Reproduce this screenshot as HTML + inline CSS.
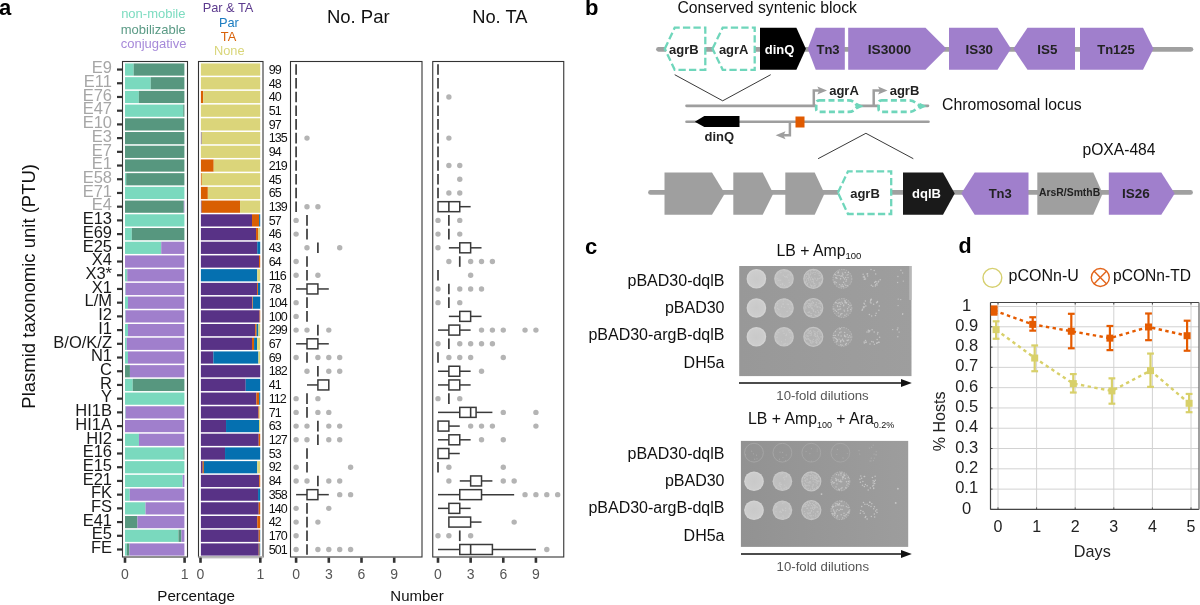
<!DOCTYPE html>
<html><head><meta charset="utf-8"><style>
html,body{margin:0;padding:0;background:#fff;width:1200px;height:605px;overflow:hidden}
svg{display:block;font-family:"Liberation Sans", sans-serif;will-change:transform}
</style></head><body>
<svg width="1200" height="605" viewBox="0 0 1200 605">
<rect width="1200" height="605" fill="#fff"/>
<text x="153.30" y="18.30" font-size="13" fill="#7ddcc0" text-anchor="middle" font-weight="normal" >non-mobile</text>
<text x="153.30" y="33.70" font-size="13" fill="#5a9a85" text-anchor="middle" font-weight="normal" >mobilizable</text>
<text x="153.60" y="48.10" font-size="13" fill="#a689d9" text-anchor="middle" font-weight="normal" >conjugative</text>
<text x="228.00" y="11.90" font-size="12.8" fill="#5c3a8e" text-anchor="middle" font-weight="normal" >Par &amp; TA</text>
<text x="228.90" y="26.60" font-size="12.8" fill="#1b7cc0" text-anchor="middle" font-weight="normal" >Par</text>
<text x="228.50" y="40.60" font-size="12.8" fill="#d8620a" text-anchor="middle" font-weight="normal" >TA</text>
<text x="229.30" y="54.50" font-size="12.8" fill="#d9d67a" text-anchor="middle" font-weight="normal" >None</text>
<text x="358.30" y="23.30" font-size="18.5" fill="#111" text-anchor="middle" font-weight="normal" >No. Par</text>
<text x="499.80" y="23.30" font-size="18.3" fill="#111" text-anchor="middle" font-weight="normal" >No. TA</text>
<text x="-1.00" y="15.30" font-size="22" fill="#000" text-anchor="start" font-weight="bold" >a</text>
<text transform="translate(35.4,286.35) rotate(-90)" font-size="18.5" fill="#111" text-anchor="middle">Plasmid taxonomic unit (PTU)</text>
<text x="112.00" y="73.25" font-size="16.5" fill="#a6a6a6" text-anchor="end" font-weight="normal" >E9</text>
<rect x="117" y="68.45" width="5.5" height="2.2" fill="#333"/>
<rect x="125.00" y="63.45" width="8.67" height="12.2" fill="#7ad9be"/>
<rect x="133.67" y="63.45" width="50.73" height="12.2" fill="#57977f"/>
<rect x="200.90" y="63.45" width="59.30" height="12.2" fill="#dbd57a"/>
<text x="268.80" y="73.80" font-size="12.5" fill="#111" text-anchor="start" font-weight="normal" letter-spacing="-1">99</text>
<text x="112.00" y="86.96" font-size="16.5" fill="#a6a6a6" text-anchor="end" font-weight="normal" >E11</text>
<rect x="117" y="82.16" width="5.5" height="2.2" fill="#333"/>
<rect x="125.00" y="77.16" width="25.72" height="12.2" fill="#7ad9be"/>
<rect x="150.72" y="77.16" width="33.68" height="12.2" fill="#57977f"/>
<rect x="200.90" y="77.16" width="59.30" height="12.2" fill="#dbd57a"/>
<text x="268.80" y="87.51" font-size="12.5" fill="#111" text-anchor="start" font-weight="normal" letter-spacing="-1">48</text>
<text x="112.00" y="100.68" font-size="16.5" fill="#a6a6a6" text-anchor="end" font-weight="normal" >E76</text>
<rect x="117" y="95.88" width="5.5" height="2.2" fill="#333"/>
<rect x="125.00" y="90.88" width="13.84" height="12.2" fill="#7ad9be"/>
<rect x="138.84" y="90.88" width="45.56" height="12.2" fill="#57977f"/>
<rect x="200.90" y="90.88" width="2.37" height="12.2" fill="#d95f02"/>
<rect x="203.27" y="90.88" width="56.93" height="12.2" fill="#dbd57a"/>
<text x="268.80" y="101.23" font-size="12.5" fill="#111" text-anchor="start" font-weight="normal" letter-spacing="-1">40</text>
<text x="112.00" y="114.39" font-size="16.5" fill="#a6a6a6" text-anchor="end" font-weight="normal" >E47</text>
<rect x="117" y="109.59" width="5.5" height="2.2" fill="#333"/>
<rect x="125.00" y="104.59" width="58.21" height="12.2" fill="#7ad9be"/>
<rect x="183.21" y="104.59" width="1.19" height="12.2" fill="#57977f"/>
<rect x="200.90" y="104.59" width="59.30" height="12.2" fill="#dbd57a"/>
<text x="268.80" y="114.94" font-size="12.5" fill="#111" text-anchor="start" font-weight="normal" letter-spacing="-1">51</text>
<text x="112.00" y="128.10" font-size="16.5" fill="#a6a6a6" text-anchor="end" font-weight="normal" >E10</text>
<rect x="117" y="123.30" width="5.5" height="2.2" fill="#333"/>
<rect x="125.00" y="118.30" width="59.40" height="12.2" fill="#57977f"/>
<rect x="200.90" y="118.30" width="59.30" height="12.2" fill="#dbd57a"/>
<text x="268.80" y="128.65" font-size="12.5" fill="#111" text-anchor="start" font-weight="normal" letter-spacing="-1">97</text>
<text x="112.00" y="141.81" font-size="16.5" fill="#a6a6a6" text-anchor="end" font-weight="normal" >E3</text>
<rect x="117" y="137.02" width="5.5" height="2.2" fill="#333"/>
<rect x="125.00" y="132.02" width="59.40" height="12.2" fill="#57977f"/>
<rect x="200.90" y="132.02" width="0.71" height="12.2" fill="#583286"/>
<rect x="201.61" y="132.02" width="58.59" height="12.2" fill="#dbd57a"/>
<text x="268.80" y="142.37" font-size="12.5" fill="#111" text-anchor="start" font-weight="normal" letter-spacing="-1">135</text>
<text x="112.00" y="155.53" font-size="16.5" fill="#a6a6a6" text-anchor="end" font-weight="normal" >E7</text>
<rect x="117" y="150.73" width="5.5" height="2.2" fill="#333"/>
<rect x="125.00" y="145.73" width="59.40" height="12.2" fill="#57977f"/>
<rect x="200.90" y="145.73" width="59.30" height="12.2" fill="#dbd57a"/>
<text x="268.80" y="156.08" font-size="12.5" fill="#111" text-anchor="start" font-weight="normal" letter-spacing="-1">94</text>
<text x="112.00" y="169.24" font-size="16.5" fill="#a6a6a6" text-anchor="end" font-weight="normal" >E1</text>
<rect x="117" y="164.44" width="5.5" height="2.2" fill="#333"/>
<rect x="125.00" y="159.44" width="59.40" height="12.2" fill="#57977f"/>
<rect x="200.90" y="159.44" width="12.81" height="12.2" fill="#d95f02"/>
<rect x="213.71" y="159.44" width="46.49" height="12.2" fill="#dbd57a"/>
<text x="268.80" y="169.79" font-size="12.5" fill="#111" text-anchor="start" font-weight="normal" letter-spacing="-1">219</text>
<text x="112.00" y="182.95" font-size="16.5" fill="#a6a6a6" text-anchor="end" font-weight="normal" >E58</text>
<rect x="117" y="178.15" width="5.5" height="2.2" fill="#333"/>
<rect x="125.00" y="173.15" width="1.19" height="12.2" fill="#7ad9be"/>
<rect x="126.19" y="173.15" width="58.21" height="12.2" fill="#57977f"/>
<rect x="200.90" y="173.15" width="0.89" height="12.2" fill="#d95f02"/>
<rect x="201.79" y="173.15" width="58.41" height="12.2" fill="#dbd57a"/>
<text x="268.80" y="183.50" font-size="12.5" fill="#111" text-anchor="start" font-weight="normal" letter-spacing="-1">45</text>
<text x="112.00" y="196.67" font-size="16.5" fill="#a6a6a6" text-anchor="end" font-weight="normal" >E71</text>
<rect x="117" y="191.87" width="5.5" height="2.2" fill="#333"/>
<rect x="125.00" y="186.87" width="59.40" height="12.2" fill="#7ad9be"/>
<rect x="200.90" y="186.87" width="6.94" height="12.2" fill="#d95f02"/>
<rect x="207.84" y="186.87" width="52.36" height="12.2" fill="#dbd57a"/>
<text x="268.80" y="197.22" font-size="12.5" fill="#111" text-anchor="start" font-weight="normal" letter-spacing="-1">65</text>
<text x="112.00" y="210.38" font-size="16.5" fill="#a6a6a6" text-anchor="end" font-weight="normal" >E4</text>
<rect x="117" y="205.58" width="5.5" height="2.2" fill="#333"/>
<rect x="125.00" y="200.58" width="58.81" height="12.2" fill="#57977f"/>
<rect x="183.81" y="200.58" width="0.59" height="12.2" fill="#a07fcc"/>
<rect x="200.90" y="200.58" width="0.71" height="12.2" fill="#583286"/>
<rect x="201.61" y="200.58" width="38.43" height="12.2" fill="#d95f02"/>
<rect x="240.04" y="200.58" width="20.16" height="12.2" fill="#dbd57a"/>
<text x="268.80" y="210.93" font-size="12.5" fill="#111" text-anchor="start" font-weight="normal" letter-spacing="-1">139</text>
<text x="112.00" y="224.09" font-size="16.5" fill="#1a1a1a" text-anchor="end" font-weight="normal" >E13</text>
<rect x="117" y="219.29" width="5.5" height="2.2" fill="#333"/>
<rect x="125.00" y="214.29" width="59.40" height="12.2" fill="#7ad9be"/>
<rect x="200.90" y="214.29" width="51.12" height="12.2" fill="#583286"/>
<rect x="252.02" y="214.29" width="7.12" height="12.2" fill="#d95f02"/>
<rect x="259.13" y="214.29" width="1.07" height="12.2" fill="#0570b0"/>
<text x="268.80" y="224.64" font-size="12.5" fill="#111" text-anchor="start" font-weight="normal" letter-spacing="-1">57</text>
<text x="112.00" y="237.81" font-size="16.5" fill="#1a1a1a" text-anchor="end" font-weight="normal" >E69</text>
<rect x="117" y="233.01" width="5.5" height="2.2" fill="#333"/>
<rect x="125.00" y="228.01" width="6.83" height="12.2" fill="#7ad9be"/>
<rect x="131.83" y="228.01" width="52.57" height="12.2" fill="#57977f"/>
<rect x="200.90" y="228.01" width="55.15" height="12.2" fill="#583286"/>
<rect x="256.05" y="228.01" width="2.37" height="12.2" fill="#d95f02"/>
<rect x="258.42" y="228.01" width="1.78" height="12.2" fill="#dbd57a"/>
<text x="268.80" y="238.36" font-size="12.5" fill="#111" text-anchor="start" font-weight="normal" letter-spacing="-1">46</text>
<text x="112.00" y="251.52" font-size="16.5" fill="#1a1a1a" text-anchor="end" font-weight="normal" >E25</text>
<rect x="117" y="246.72" width="5.5" height="2.2" fill="#333"/>
<rect x="125.00" y="241.72" width="36.23" height="12.2" fill="#7ad9be"/>
<rect x="161.23" y="241.72" width="23.17" height="12.2" fill="#a07fcc"/>
<rect x="200.90" y="241.72" width="56.33" height="12.2" fill="#583286"/>
<rect x="257.24" y="241.72" width="2.96" height="12.2" fill="#0570b0"/>
<text x="268.80" y="252.07" font-size="12.5" fill="#111" text-anchor="start" font-weight="normal" letter-spacing="-1">43</text>
<text x="112.00" y="265.23" font-size="16.5" fill="#1a1a1a" text-anchor="end" font-weight="normal" >X4</text>
<rect x="117" y="260.43" width="5.5" height="2.2" fill="#333"/>
<rect x="125.00" y="255.43" width="59.40" height="12.2" fill="#a07fcc"/>
<rect x="200.90" y="255.43" width="58.11" height="12.2" fill="#583286"/>
<rect x="259.01" y="255.43" width="1.19" height="12.2" fill="#d95f02"/>
<text x="268.80" y="265.78" font-size="12.5" fill="#111" text-anchor="start" font-weight="normal" letter-spacing="-1">64</text>
<text x="112.00" y="278.94" font-size="16.5" fill="#1a1a1a" text-anchor="end" font-weight="normal" >X3*</text>
<rect x="117" y="274.14" width="5.5" height="2.2" fill="#333"/>
<rect x="125.00" y="269.14" width="1.78" height="12.2" fill="#7ad9be"/>
<rect x="126.78" y="269.14" width="0.59" height="12.2" fill="#57977f"/>
<rect x="127.38" y="269.14" width="57.02" height="12.2" fill="#a07fcc"/>
<rect x="200.90" y="269.14" width="56.33" height="12.2" fill="#0570b0"/>
<rect x="257.24" y="269.14" width="2.96" height="12.2" fill="#dbd57a"/>
<text x="268.80" y="279.50" font-size="12.5" fill="#111" text-anchor="start" font-weight="normal" letter-spacing="-1">116</text>
<text x="112.00" y="292.66" font-size="16.5" fill="#1a1a1a" text-anchor="end" font-weight="normal" >X1</text>
<rect x="117" y="287.86" width="5.5" height="2.2" fill="#333"/>
<rect x="125.00" y="282.86" width="0.59" height="12.2" fill="#7ad9be"/>
<rect x="125.59" y="282.86" width="58.81" height="12.2" fill="#a07fcc"/>
<rect x="200.90" y="282.86" width="56.22" height="12.2" fill="#583286"/>
<rect x="257.12" y="282.86" width="0.89" height="12.2" fill="#d95f02"/>
<rect x="258.01" y="282.86" width="2.19" height="12.2" fill="#0570b0"/>
<text x="268.80" y="293.21" font-size="12.5" fill="#111" text-anchor="start" font-weight="normal" letter-spacing="-1">78</text>
<text x="112.00" y="306.37" font-size="16.5" fill="#1a1a1a" text-anchor="end" font-weight="normal" >L/M</text>
<rect x="117" y="301.57" width="5.5" height="2.2" fill="#333"/>
<rect x="125.00" y="296.57" width="2.97" height="12.2" fill="#7ad9be"/>
<rect x="127.97" y="296.57" width="56.43" height="12.2" fill="#a07fcc"/>
<rect x="200.90" y="296.57" width="51.35" height="12.2" fill="#583286"/>
<rect x="252.25" y="296.57" width="0.59" height="12.2" fill="#d95f02"/>
<rect x="252.85" y="296.57" width="7.35" height="12.2" fill="#0570b0"/>
<text x="268.80" y="306.92" font-size="12.5" fill="#111" text-anchor="start" font-weight="normal" letter-spacing="-1">104</text>
<text x="112.00" y="320.08" font-size="16.5" fill="#1a1a1a" text-anchor="end" font-weight="normal" >I2</text>
<rect x="117" y="315.28" width="5.5" height="2.2" fill="#333"/>
<rect x="125.00" y="310.28" width="0.59" height="12.2" fill="#7ad9be"/>
<rect x="125.59" y="310.28" width="58.81" height="12.2" fill="#a07fcc"/>
<rect x="200.90" y="310.28" width="58.71" height="12.2" fill="#583286"/>
<rect x="259.61" y="310.28" width="0.59" height="12.2" fill="#d95f02"/>
<text x="268.80" y="320.63" font-size="12.5" fill="#111" text-anchor="start" font-weight="normal" letter-spacing="-1">100</text>
<text x="112.00" y="333.80" font-size="16.5" fill="#1a1a1a" text-anchor="end" font-weight="normal" >I1</text>
<rect x="117" y="329.00" width="5.5" height="2.2" fill="#333"/>
<rect x="125.00" y="324.00" width="2.97" height="12.2" fill="#7ad9be"/>
<rect x="127.97" y="324.00" width="56.43" height="12.2" fill="#a07fcc"/>
<rect x="200.90" y="324.00" width="54.26" height="12.2" fill="#583286"/>
<rect x="255.16" y="324.00" width="1.48" height="12.2" fill="#d95f02"/>
<rect x="256.64" y="324.00" width="1.78" height="12.2" fill="#0570b0"/>
<rect x="258.42" y="324.00" width="1.78" height="12.2" fill="#dbd57a"/>
<text x="268.80" y="334.35" font-size="12.5" fill="#111" text-anchor="start" font-weight="normal" letter-spacing="-1">299</text>
<text x="112.00" y="347.51" font-size="16.5" fill="#1a1a1a" text-anchor="end" font-weight="normal" >B/O/K/Z</text>
<rect x="117" y="342.71" width="5.5" height="2.2" fill="#333"/>
<rect x="125.00" y="337.71" width="1.78" height="12.2" fill="#7ad9be"/>
<rect x="126.78" y="337.71" width="57.62" height="12.2" fill="#a07fcc"/>
<rect x="200.90" y="337.71" width="51.12" height="12.2" fill="#583286"/>
<rect x="252.02" y="337.71" width="2.08" height="12.2" fill="#d95f02"/>
<rect x="254.09" y="337.71" width="2.96" height="12.2" fill="#0570b0"/>
<rect x="257.06" y="337.71" width="3.14" height="12.2" fill="#dbd57a"/>
<text x="268.80" y="348.06" font-size="12.5" fill="#111" text-anchor="start" font-weight="normal" letter-spacing="-1">67</text>
<text x="112.00" y="361.22" font-size="16.5" fill="#1a1a1a" text-anchor="end" font-weight="normal" >N1</text>
<rect x="117" y="356.42" width="5.5" height="2.2" fill="#333"/>
<rect x="125.00" y="351.42" width="2.97" height="12.2" fill="#7ad9be"/>
<rect x="127.97" y="351.42" width="56.43" height="12.2" fill="#a07fcc"/>
<rect x="200.90" y="351.42" width="12.45" height="12.2" fill="#583286"/>
<rect x="213.35" y="351.42" width="45.07" height="12.2" fill="#0570b0"/>
<rect x="258.42" y="351.42" width="1.78" height="12.2" fill="#dbd57a"/>
<text x="268.80" y="361.77" font-size="12.5" fill="#111" text-anchor="start" font-weight="normal" letter-spacing="-1">69</text>
<text x="112.00" y="374.94" font-size="16.5" fill="#1a1a1a" text-anchor="end" font-weight="normal" >C</text>
<rect x="117" y="370.14" width="5.5" height="2.2" fill="#333"/>
<rect x="125.00" y="365.14" width="4.93" height="12.2" fill="#57977f"/>
<rect x="129.93" y="365.14" width="54.47" height="12.2" fill="#a07fcc"/>
<rect x="200.90" y="365.14" width="59.30" height="12.2" fill="#583286"/>
<text x="268.80" y="375.49" font-size="12.5" fill="#111" text-anchor="start" font-weight="normal" letter-spacing="-1">182</text>
<text x="112.00" y="388.65" font-size="16.5" fill="#1a1a1a" text-anchor="end" font-weight="normal" >R</text>
<rect x="117" y="383.85" width="5.5" height="2.2" fill="#333"/>
<rect x="125.00" y="378.85" width="7.72" height="12.2" fill="#7ad9be"/>
<rect x="132.72" y="378.85" width="51.68" height="12.2" fill="#57977f"/>
<rect x="200.90" y="378.85" width="44.83" height="12.2" fill="#583286"/>
<rect x="245.73" y="378.85" width="14.47" height="12.2" fill="#0570b0"/>
<text x="268.80" y="389.20" font-size="12.5" fill="#111" text-anchor="start" font-weight="normal" letter-spacing="-1">41</text>
<text x="112.00" y="402.36" font-size="16.5" fill="#1a1a1a" text-anchor="end" font-weight="normal" >Y</text>
<rect x="117" y="397.56" width="5.5" height="2.2" fill="#333"/>
<rect x="125.00" y="392.56" width="59.40" height="12.2" fill="#7ad9be"/>
<rect x="200.90" y="392.56" width="55.50" height="12.2" fill="#583286"/>
<rect x="256.40" y="392.56" width="2.79" height="12.2" fill="#d95f02"/>
<rect x="259.19" y="392.56" width="1.01" height="12.2" fill="#0570b0"/>
<text x="268.80" y="402.91" font-size="12.5" fill="#111" text-anchor="start" font-weight="normal" letter-spacing="-1">112</text>
<text x="112.00" y="416.07" font-size="16.5" fill="#1a1a1a" text-anchor="end" font-weight="normal" >HI1B</text>
<rect x="117" y="411.27" width="5.5" height="2.2" fill="#333"/>
<rect x="125.00" y="406.27" width="0.59" height="12.2" fill="#7ad9be"/>
<rect x="125.59" y="406.27" width="58.81" height="12.2" fill="#a07fcc"/>
<rect x="200.90" y="406.27" width="57.52" height="12.2" fill="#583286"/>
<rect x="258.42" y="406.27" width="0.89" height="12.2" fill="#d95f02"/>
<rect x="259.31" y="406.27" width="0.89" height="12.2" fill="#dbd57a"/>
<text x="268.80" y="416.62" font-size="12.5" fill="#111" text-anchor="start" font-weight="normal" letter-spacing="-1">71</text>
<text x="112.00" y="429.79" font-size="16.5" fill="#1a1a1a" text-anchor="end" font-weight="normal" >HI1A</text>
<rect x="117" y="424.99" width="5.5" height="2.2" fill="#333"/>
<rect x="125.00" y="419.99" width="59.40" height="12.2" fill="#a07fcc"/>
<rect x="200.90" y="419.99" width="25.14" height="12.2" fill="#583286"/>
<rect x="226.04" y="419.99" width="32.97" height="12.2" fill="#0570b0"/>
<rect x="259.01" y="419.99" width="1.19" height="12.2" fill="#dbd57a"/>
<text x="268.80" y="430.34" font-size="12.5" fill="#111" text-anchor="start" font-weight="normal" letter-spacing="-1">63</text>
<text x="112.00" y="443.50" font-size="16.5" fill="#1a1a1a" text-anchor="end" font-weight="normal" >HI2</text>
<rect x="117" y="438.70" width="5.5" height="2.2" fill="#333"/>
<rect x="125.00" y="433.70" width="13.96" height="12.2" fill="#7ad9be"/>
<rect x="138.96" y="433.70" width="45.44" height="12.2" fill="#a07fcc"/>
<rect x="200.90" y="433.70" width="57.82" height="12.2" fill="#583286"/>
<rect x="258.72" y="433.70" width="1.48" height="12.2" fill="#d95f02"/>
<text x="268.80" y="444.05" font-size="12.5" fill="#111" text-anchor="start" font-weight="normal" letter-spacing="-1">127</text>
<text x="112.00" y="457.21" font-size="16.5" fill="#1a1a1a" text-anchor="end" font-weight="normal" >E16</text>
<rect x="117" y="452.41" width="5.5" height="2.2" fill="#333"/>
<rect x="125.00" y="447.41" width="58.51" height="12.2" fill="#7ad9be"/>
<rect x="183.51" y="447.41" width="0.89" height="12.2" fill="#57977f"/>
<rect x="200.90" y="447.41" width="24.14" height="12.2" fill="#583286"/>
<rect x="225.04" y="447.41" width="35.16" height="12.2" fill="#0570b0"/>
<text x="268.80" y="457.76" font-size="12.5" fill="#111" text-anchor="start" font-weight="normal" letter-spacing="-1">53</text>
<text x="112.00" y="470.93" font-size="16.5" fill="#1a1a1a" text-anchor="end" font-weight="normal" >E15</text>
<rect x="117" y="466.13" width="5.5" height="2.2" fill="#333"/>
<rect x="125.00" y="461.13" width="59.40" height="12.2" fill="#7ad9be"/>
<rect x="200.90" y="461.13" width="1.78" height="12.2" fill="#583286"/>
<rect x="202.68" y="461.13" width="1.19" height="12.2" fill="#d95f02"/>
<rect x="203.87" y="461.13" width="53.37" height="12.2" fill="#0570b0"/>
<rect x="257.24" y="461.13" width="2.96" height="12.2" fill="#dbd57a"/>
<text x="268.80" y="471.48" font-size="12.5" fill="#111" text-anchor="start" font-weight="normal" letter-spacing="-1">92</text>
<text x="112.00" y="484.64" font-size="16.5" fill="#1a1a1a" text-anchor="end" font-weight="normal" >E21</text>
<rect x="117" y="479.84" width="5.5" height="2.2" fill="#333"/>
<rect x="125.00" y="474.84" width="57.62" height="12.2" fill="#7ad9be"/>
<rect x="182.62" y="474.84" width="1.78" height="12.2" fill="#a07fcc"/>
<rect x="200.90" y="474.84" width="58.29" height="12.2" fill="#583286"/>
<rect x="259.19" y="474.84" width="1.01" height="12.2" fill="#d95f02"/>
<text x="268.80" y="485.19" font-size="12.5" fill="#111" text-anchor="start" font-weight="normal" letter-spacing="-1">84</text>
<text x="112.00" y="498.35" font-size="16.5" fill="#1a1a1a" text-anchor="end" font-weight="normal" >FK</text>
<rect x="117" y="493.55" width="5.5" height="2.2" fill="#333"/>
<rect x="125.00" y="488.55" width="4.75" height="12.2" fill="#7ad9be"/>
<rect x="129.75" y="488.55" width="54.65" height="12.2" fill="#a07fcc"/>
<rect x="200.90" y="488.55" width="57.17" height="12.2" fill="#583286"/>
<rect x="258.07" y="488.55" width="2.13" height="12.2" fill="#0570b0"/>
<text x="268.80" y="498.90" font-size="12.5" fill="#111" text-anchor="start" font-weight="normal" letter-spacing="-1">358</text>
<text x="112.00" y="512.07" font-size="16.5" fill="#1a1a1a" text-anchor="end" font-weight="normal" >FS</text>
<rect x="117" y="507.27" width="5.5" height="2.2" fill="#333"/>
<rect x="125.00" y="502.27" width="20.49" height="12.2" fill="#7ad9be"/>
<rect x="145.49" y="502.27" width="38.91" height="12.2" fill="#a07fcc"/>
<rect x="200.90" y="502.27" width="57.82" height="12.2" fill="#583286"/>
<rect x="258.72" y="502.27" width="1.48" height="12.2" fill="#d95f02"/>
<text x="268.80" y="512.62" font-size="12.5" fill="#111" text-anchor="start" font-weight="normal" letter-spacing="-1">140</text>
<text x="112.00" y="525.78" font-size="16.5" fill="#1a1a1a" text-anchor="end" font-weight="normal" >E41</text>
<rect x="117" y="520.98" width="5.5" height="2.2" fill="#333"/>
<rect x="125.00" y="515.98" width="12.47" height="12.2" fill="#57977f"/>
<rect x="137.47" y="515.98" width="46.93" height="12.2" fill="#a07fcc"/>
<rect x="200.90" y="515.98" width="56.33" height="12.2" fill="#583286"/>
<rect x="257.24" y="515.98" width="2.96" height="12.2" fill="#d95f02"/>
<text x="268.80" y="526.33" font-size="12.5" fill="#111" text-anchor="start" font-weight="normal" letter-spacing="-1">42</text>
<text x="112.00" y="539.49" font-size="16.5" fill="#1a1a1a" text-anchor="end" font-weight="normal" >E5</text>
<rect x="117" y="534.69" width="5.5" height="2.2" fill="#333"/>
<rect x="125.00" y="529.69" width="53.46" height="12.2" fill="#7ad9be"/>
<rect x="178.46" y="529.69" width="2.97" height="12.2" fill="#57977f"/>
<rect x="181.43" y="529.69" width="2.97" height="12.2" fill="#a07fcc"/>
<rect x="200.90" y="529.69" width="57.82" height="12.2" fill="#583286"/>
<rect x="258.72" y="529.69" width="1.19" height="12.2" fill="#d95f02"/>
<rect x="259.90" y="529.69" width="0.30" height="12.2" fill="#0570b0"/>
<text x="268.80" y="540.04" font-size="12.5" fill="#111" text-anchor="start" font-weight="normal" letter-spacing="-1">170</text>
<text x="112.00" y="553.21" font-size="16.5" fill="#1a1a1a" text-anchor="end" font-weight="normal" >FE</text>
<rect x="117" y="548.40" width="5.5" height="2.2" fill="#333"/>
<rect x="125.00" y="543.40" width="1.78" height="12.2" fill="#7ad9be"/>
<rect x="126.78" y="543.40" width="2.67" height="12.2" fill="#57977f"/>
<rect x="129.45" y="543.40" width="54.95" height="12.2" fill="#a07fcc"/>
<rect x="200.90" y="543.40" width="57.82" height="12.2" fill="#583286"/>
<rect x="258.72" y="543.40" width="0.89" height="12.2" fill="#d95f02"/>
<rect x="259.61" y="543.40" width="0.59" height="12.2" fill="#0570b0"/>
<text x="268.80" y="553.75" font-size="12.5" fill="#111" text-anchor="start" font-weight="normal" letter-spacing="-1">501</text>
<rect x="122.5" y="61.5" width="65.0" height="495.5" fill="none" stroke="#333" stroke-width="1.1"/>
<rect x="198.5" y="61.5" width="64.5" height="495.5" fill="none" stroke="#333" stroke-width="1.1"/>
<rect x="290.5" y="61.5" width="131.5" height="495.5" fill="none" stroke="#333" stroke-width="1.1"/>
<rect x="432.75" y="61.5" width="131.0" height="495.5" fill="none" stroke="#333" stroke-width="1.1"/>
<rect x="198.5" y="556.2" width="64.5" height="2.2" fill="#bcbcbc"/>
<line x1="296.10" y1="64.25" x2="296.10" y2="74.85" stroke="#3a3a3a" stroke-width="1.7"/>
<line x1="438.00" y1="64.25" x2="438.00" y2="74.85" stroke="#3a3a3a" stroke-width="1.7"/>
<line x1="296.10" y1="77.96" x2="296.10" y2="88.56" stroke="#3a3a3a" stroke-width="1.7"/>
<line x1="438.00" y1="77.96" x2="438.00" y2="88.56" stroke="#3a3a3a" stroke-width="1.7"/>
<line x1="296.10" y1="91.68" x2="296.10" y2="102.28" stroke="#3a3a3a" stroke-width="1.7"/>
<circle cx="448.88" cy="96.98" r="2.7" fill="#b4b4b4"/>
<line x1="438.00" y1="91.68" x2="438.00" y2="102.28" stroke="#3a3a3a" stroke-width="1.7"/>
<line x1="296.10" y1="105.39" x2="296.10" y2="115.99" stroke="#3a3a3a" stroke-width="1.7"/>
<line x1="438.00" y1="105.39" x2="438.00" y2="115.99" stroke="#3a3a3a" stroke-width="1.7"/>
<line x1="296.10" y1="119.10" x2="296.10" y2="129.70" stroke="#3a3a3a" stroke-width="1.7"/>
<line x1="438.00" y1="119.10" x2="438.00" y2="129.70" stroke="#3a3a3a" stroke-width="1.7"/>
<circle cx="307.00" cy="138.12" r="2.7" fill="#b4b4b4"/>
<line x1="296.10" y1="132.81" x2="296.10" y2="143.42" stroke="#3a3a3a" stroke-width="1.7"/>
<circle cx="448.88" cy="138.12" r="2.7" fill="#b4b4b4"/>
<line x1="438.00" y1="132.81" x2="438.00" y2="143.42" stroke="#3a3a3a" stroke-width="1.7"/>
<line x1="296.10" y1="146.53" x2="296.10" y2="157.13" stroke="#3a3a3a" stroke-width="1.7"/>
<line x1="438.00" y1="146.53" x2="438.00" y2="157.13" stroke="#3a3a3a" stroke-width="1.7"/>
<line x1="296.10" y1="160.24" x2="296.10" y2="170.84" stroke="#3a3a3a" stroke-width="1.7"/>
<circle cx="448.88" cy="165.54" r="2.7" fill="#b4b4b4"/>
<circle cx="459.76" cy="165.54" r="2.7" fill="#b4b4b4"/>
<line x1="438.00" y1="160.24" x2="438.00" y2="170.84" stroke="#3a3a3a" stroke-width="1.7"/>
<line x1="296.10" y1="173.95" x2="296.10" y2="184.55" stroke="#3a3a3a" stroke-width="1.7"/>
<circle cx="459.76" cy="179.25" r="2.7" fill="#b4b4b4"/>
<line x1="438.00" y1="173.95" x2="438.00" y2="184.55" stroke="#3a3a3a" stroke-width="1.7"/>
<line x1="296.10" y1="187.67" x2="296.10" y2="198.27" stroke="#3a3a3a" stroke-width="1.7"/>
<circle cx="448.88" cy="192.97" r="2.7" fill="#b4b4b4"/>
<circle cx="459.76" cy="192.97" r="2.7" fill="#b4b4b4"/>
<line x1="438.00" y1="187.67" x2="438.00" y2="198.27" stroke="#3a3a3a" stroke-width="1.7"/>
<circle cx="307.00" cy="206.68" r="2.7" fill="#b4b4b4"/>
<circle cx="317.90" cy="206.68" r="2.7" fill="#b4b4b4"/>
<line x1="296.10" y1="201.38" x2="296.10" y2="211.98" stroke="#3a3a3a" stroke-width="1.7"/>
<line x1="459.76" y1="206.68" x2="470.64" y2="206.68" stroke="#3a3a3a" stroke-width="1.5"/>
<rect x="438.00" y="201.68" width="21.76" height="10" fill="#fff" stroke="#3a3a3a" stroke-width="1.5"/>
<line x1="448.88" y1="201.68" x2="448.88" y2="211.68" stroke="#3a3a3a" stroke-width="1.6"/>
<circle cx="296.10" cy="220.39" r="2.7" fill="#b4b4b4"/>
<line x1="307.00" y1="215.09" x2="307.00" y2="225.69" stroke="#3a3a3a" stroke-width="1.7"/>
<circle cx="438.00" cy="220.39" r="2.7" fill="#b4b4b4"/>
<circle cx="459.76" cy="220.39" r="2.7" fill="#b4b4b4"/>
<line x1="448.88" y1="215.09" x2="448.88" y2="225.69" stroke="#3a3a3a" stroke-width="1.7"/>
<circle cx="296.10" cy="234.11" r="2.7" fill="#b4b4b4"/>
<line x1="307.00" y1="228.81" x2="307.00" y2="239.41" stroke="#3a3a3a" stroke-width="1.7"/>
<circle cx="438.00" cy="234.11" r="2.7" fill="#b4b4b4"/>
<circle cx="459.76" cy="234.11" r="2.7" fill="#b4b4b4"/>
<line x1="448.88" y1="228.81" x2="448.88" y2="239.41" stroke="#3a3a3a" stroke-width="1.7"/>
<circle cx="307.00" cy="247.82" r="2.7" fill="#b4b4b4"/>
<circle cx="339.70" cy="247.82" r="2.7" fill="#b4b4b4"/>
<line x1="317.90" y1="242.52" x2="317.90" y2="253.12" stroke="#3a3a3a" stroke-width="1.7"/>
<circle cx="438.00" cy="247.82" r="2.7" fill="#b4b4b4"/>
<line x1="448.88" y1="247.82" x2="459.76" y2="247.82" stroke="#3a3a3a" stroke-width="1.5"/>
<line x1="470.64" y1="247.82" x2="481.52" y2="247.82" stroke="#3a3a3a" stroke-width="1.5"/>
<rect x="459.76" y="242.82" width="10.88" height="10" fill="#fff" stroke="#3a3a3a" stroke-width="1.5"/>
<circle cx="296.10" cy="261.53" r="2.7" fill="#b4b4b4"/>
<line x1="307.00" y1="256.23" x2="307.00" y2="266.83" stroke="#3a3a3a" stroke-width="1.7"/>
<circle cx="448.88" cy="261.53" r="2.7" fill="#b4b4b4"/>
<circle cx="470.64" cy="261.53" r="2.7" fill="#b4b4b4"/>
<circle cx="481.52" cy="261.53" r="2.7" fill="#b4b4b4"/>
<circle cx="492.40" cy="261.53" r="2.7" fill="#b4b4b4"/>
<line x1="459.76" y1="256.23" x2="459.76" y2="266.83" stroke="#3a3a3a" stroke-width="1.7"/>
<circle cx="296.10" cy="275.25" r="2.7" fill="#b4b4b4"/>
<circle cx="317.90" cy="275.25" r="2.7" fill="#b4b4b4"/>
<line x1="307.00" y1="269.94" x2="307.00" y2="280.55" stroke="#3a3a3a" stroke-width="1.7"/>
<circle cx="470.64" cy="275.25" r="2.7" fill="#b4b4b4"/>
<line x1="438.00" y1="269.94" x2="438.00" y2="280.55" stroke="#3a3a3a" stroke-width="1.7"/>
<line x1="296.10" y1="288.96" x2="307.00" y2="288.96" stroke="#3a3a3a" stroke-width="1.5"/>
<line x1="317.90" y1="288.96" x2="328.80" y2="288.96" stroke="#3a3a3a" stroke-width="1.5"/>
<rect x="307.00" y="283.96" width="10.90" height="10" fill="#fff" stroke="#3a3a3a" stroke-width="1.5"/>
<circle cx="438.00" cy="288.96" r="2.7" fill="#b4b4b4"/>
<circle cx="459.76" cy="288.96" r="2.7" fill="#b4b4b4"/>
<circle cx="470.64" cy="288.96" r="2.7" fill="#b4b4b4"/>
<circle cx="481.52" cy="288.96" r="2.7" fill="#b4b4b4"/>
<line x1="448.88" y1="283.66" x2="448.88" y2="294.26" stroke="#3a3a3a" stroke-width="1.7"/>
<circle cx="296.10" cy="302.67" r="2.7" fill="#b4b4b4"/>
<line x1="307.00" y1="297.37" x2="307.00" y2="307.97" stroke="#3a3a3a" stroke-width="1.7"/>
<circle cx="438.00" cy="302.67" r="2.7" fill="#b4b4b4"/>
<circle cx="459.76" cy="302.67" r="2.7" fill="#b4b4b4"/>
<line x1="448.88" y1="297.37" x2="448.88" y2="307.97" stroke="#3a3a3a" stroke-width="1.7"/>
<circle cx="296.10" cy="316.38" r="2.7" fill="#b4b4b4"/>
<line x1="307.00" y1="311.08" x2="307.00" y2="321.68" stroke="#3a3a3a" stroke-width="1.7"/>
<line x1="448.88" y1="316.38" x2="459.76" y2="316.38" stroke="#3a3a3a" stroke-width="1.5"/>
<line x1="470.64" y1="316.38" x2="481.52" y2="316.38" stroke="#3a3a3a" stroke-width="1.5"/>
<rect x="459.76" y="311.38" width="10.88" height="10" fill="#fff" stroke="#3a3a3a" stroke-width="1.5"/>
<circle cx="296.10" cy="330.10" r="2.7" fill="#b4b4b4"/>
<circle cx="307.00" cy="330.10" r="2.7" fill="#b4b4b4"/>
<circle cx="328.80" cy="330.10" r="2.7" fill="#b4b4b4"/>
<line x1="317.90" y1="324.80" x2="317.90" y2="335.40" stroke="#3a3a3a" stroke-width="1.7"/>
<circle cx="481.52" cy="330.10" r="2.7" fill="#b4b4b4"/>
<circle cx="492.40" cy="330.10" r="2.7" fill="#b4b4b4"/>
<circle cx="503.28" cy="330.10" r="2.7" fill="#b4b4b4"/>
<circle cx="525.04" cy="330.10" r="2.7" fill="#b4b4b4"/>
<circle cx="535.92" cy="330.10" r="2.7" fill="#b4b4b4"/>
<line x1="438.00" y1="330.10" x2="448.88" y2="330.10" stroke="#3a3a3a" stroke-width="1.5"/>
<line x1="459.76" y1="330.10" x2="470.64" y2="330.10" stroke="#3a3a3a" stroke-width="1.5"/>
<rect x="448.88" y="325.10" width="10.88" height="10" fill="#fff" stroke="#3a3a3a" stroke-width="1.5"/>
<line x1="296.10" y1="343.81" x2="307.00" y2="343.81" stroke="#3a3a3a" stroke-width="1.5"/>
<line x1="317.90" y1="343.81" x2="328.80" y2="343.81" stroke="#3a3a3a" stroke-width="1.5"/>
<rect x="307.00" y="338.81" width="10.90" height="10" fill="#fff" stroke="#3a3a3a" stroke-width="1.5"/>
<circle cx="438.00" cy="343.81" r="2.7" fill="#b4b4b4"/>
<circle cx="459.76" cy="343.81" r="2.7" fill="#b4b4b4"/>
<circle cx="470.64" cy="343.81" r="2.7" fill="#b4b4b4"/>
<circle cx="481.52" cy="343.81" r="2.7" fill="#b4b4b4"/>
<circle cx="492.40" cy="343.81" r="2.7" fill="#b4b4b4"/>
<line x1="448.88" y1="338.51" x2="448.88" y2="349.11" stroke="#3a3a3a" stroke-width="1.7"/>
<circle cx="296.10" cy="357.52" r="2.7" fill="#b4b4b4"/>
<circle cx="317.90" cy="357.52" r="2.7" fill="#b4b4b4"/>
<circle cx="328.80" cy="357.52" r="2.7" fill="#b4b4b4"/>
<circle cx="339.70" cy="357.52" r="2.7" fill="#b4b4b4"/>
<line x1="307.00" y1="352.22" x2="307.00" y2="362.82" stroke="#3a3a3a" stroke-width="1.7"/>
<circle cx="448.88" cy="357.52" r="2.7" fill="#b4b4b4"/>
<circle cx="459.76" cy="357.52" r="2.7" fill="#b4b4b4"/>
<circle cx="470.64" cy="357.52" r="2.7" fill="#b4b4b4"/>
<circle cx="503.28" cy="357.52" r="2.7" fill="#b4b4b4"/>
<line x1="438.00" y1="352.22" x2="438.00" y2="362.82" stroke="#3a3a3a" stroke-width="1.7"/>
<circle cx="307.00" cy="371.24" r="2.7" fill="#b4b4b4"/>
<circle cx="328.80" cy="371.24" r="2.7" fill="#b4b4b4"/>
<circle cx="339.70" cy="371.24" r="2.7" fill="#b4b4b4"/>
<line x1="317.90" y1="365.94" x2="317.90" y2="376.54" stroke="#3a3a3a" stroke-width="1.7"/>
<circle cx="481.52" cy="371.24" r="2.7" fill="#b4b4b4"/>
<line x1="438.00" y1="371.24" x2="448.88" y2="371.24" stroke="#3a3a3a" stroke-width="1.5"/>
<line x1="459.76" y1="371.24" x2="470.64" y2="371.24" stroke="#3a3a3a" stroke-width="1.5"/>
<rect x="448.88" y="366.24" width="10.88" height="10" fill="#fff" stroke="#3a3a3a" stroke-width="1.5"/>
<line x1="307.00" y1="384.95" x2="317.90" y2="384.95" stroke="#3a3a3a" stroke-width="1.5"/>
<rect x="317.90" y="379.95" width="10.90" height="10" fill="#fff" stroke="#3a3a3a" stroke-width="1.5"/>
<line x1="438.00" y1="384.95" x2="448.88" y2="384.95" stroke="#3a3a3a" stroke-width="1.5"/>
<line x1="459.76" y1="384.95" x2="470.64" y2="384.95" stroke="#3a3a3a" stroke-width="1.5"/>
<rect x="448.88" y="379.95" width="10.88" height="10" fill="#fff" stroke="#3a3a3a" stroke-width="1.5"/>
<circle cx="296.10" cy="398.66" r="2.7" fill="#b4b4b4"/>
<circle cx="317.90" cy="398.66" r="2.7" fill="#b4b4b4"/>
<line x1="307.00" y1="393.36" x2="307.00" y2="403.96" stroke="#3a3a3a" stroke-width="1.7"/>
<circle cx="438.00" cy="398.66" r="2.7" fill="#b4b4b4"/>
<circle cx="459.76" cy="398.66" r="2.7" fill="#b4b4b4"/>
<line x1="448.88" y1="393.36" x2="448.88" y2="403.96" stroke="#3a3a3a" stroke-width="1.7"/>
<circle cx="296.10" cy="412.38" r="2.7" fill="#b4b4b4"/>
<circle cx="317.90" cy="412.38" r="2.7" fill="#b4b4b4"/>
<circle cx="328.80" cy="412.38" r="2.7" fill="#b4b4b4"/>
<line x1="307.00" y1="407.07" x2="307.00" y2="417.68" stroke="#3a3a3a" stroke-width="1.7"/>
<circle cx="503.28" cy="412.38" r="2.7" fill="#b4b4b4"/>
<circle cx="535.92" cy="412.38" r="2.7" fill="#b4b4b4"/>
<line x1="438.00" y1="412.38" x2="459.76" y2="412.38" stroke="#3a3a3a" stroke-width="1.5"/>
<line x1="476.08" y1="412.38" x2="492.40" y2="412.38" stroke="#3a3a3a" stroke-width="1.5"/>
<rect x="459.76" y="407.38" width="16.32" height="10" fill="#fff" stroke="#3a3a3a" stroke-width="1.5"/>
<line x1="470.64" y1="407.38" x2="470.64" y2="417.38" stroke="#3a3a3a" stroke-width="1.6"/>
<circle cx="296.10" cy="426.09" r="2.7" fill="#b4b4b4"/>
<circle cx="307.00" cy="426.09" r="2.7" fill="#b4b4b4"/>
<circle cx="328.80" cy="426.09" r="2.7" fill="#b4b4b4"/>
<circle cx="339.70" cy="426.09" r="2.7" fill="#b4b4b4"/>
<line x1="317.90" y1="420.79" x2="317.90" y2="431.39" stroke="#3a3a3a" stroke-width="1.7"/>
<circle cx="470.64" cy="426.09" r="2.7" fill="#b4b4b4"/>
<circle cx="481.52" cy="426.09" r="2.7" fill="#b4b4b4"/>
<circle cx="492.40" cy="426.09" r="2.7" fill="#b4b4b4"/>
<circle cx="535.92" cy="426.09" r="2.7" fill="#b4b4b4"/>
<line x1="448.88" y1="426.09" x2="459.76" y2="426.09" stroke="#3a3a3a" stroke-width="1.5"/>
<rect x="438.00" y="421.09" width="10.88" height="10" fill="#fff" stroke="#3a3a3a" stroke-width="1.5"/>
<circle cx="296.10" cy="439.80" r="2.7" fill="#b4b4b4"/>
<circle cx="307.00" cy="439.80" r="2.7" fill="#b4b4b4"/>
<circle cx="328.80" cy="439.80" r="2.7" fill="#b4b4b4"/>
<circle cx="339.70" cy="439.80" r="2.7" fill="#b4b4b4"/>
<line x1="317.90" y1="434.50" x2="317.90" y2="445.10" stroke="#3a3a3a" stroke-width="1.7"/>
<circle cx="481.52" cy="439.80" r="2.7" fill="#b4b4b4"/>
<circle cx="503.28" cy="439.80" r="2.7" fill="#b4b4b4"/>
<line x1="438.00" y1="439.80" x2="448.88" y2="439.80" stroke="#3a3a3a" stroke-width="1.5"/>
<line x1="459.76" y1="439.80" x2="470.64" y2="439.80" stroke="#3a3a3a" stroke-width="1.5"/>
<rect x="448.88" y="434.80" width="10.88" height="10" fill="#fff" stroke="#3a3a3a" stroke-width="1.5"/>
<line x1="307.00" y1="448.21" x2="307.00" y2="458.81" stroke="#3a3a3a" stroke-width="1.7"/>
<line x1="448.88" y1="453.51" x2="459.76" y2="453.51" stroke="#3a3a3a" stroke-width="1.5"/>
<rect x="438.00" y="448.51" width="10.88" height="10" fill="#fff" stroke="#3a3a3a" stroke-width="1.5"/>
<circle cx="296.10" cy="467.23" r="2.7" fill="#b4b4b4"/>
<circle cx="350.60" cy="467.23" r="2.7" fill="#b4b4b4"/>
<line x1="307.00" y1="461.93" x2="307.00" y2="472.53" stroke="#3a3a3a" stroke-width="1.7"/>
<circle cx="448.88" cy="467.23" r="2.7" fill="#b4b4b4"/>
<circle cx="503.28" cy="467.23" r="2.7" fill="#b4b4b4"/>
<line x1="438.00" y1="461.93" x2="438.00" y2="472.53" stroke="#3a3a3a" stroke-width="1.7"/>
<circle cx="296.10" cy="480.94" r="2.7" fill="#b4b4b4"/>
<circle cx="307.00" cy="480.94" r="2.7" fill="#b4b4b4"/>
<circle cx="328.80" cy="480.94" r="2.7" fill="#b4b4b4"/>
<circle cx="339.70" cy="480.94" r="2.7" fill="#b4b4b4"/>
<line x1="317.90" y1="475.64" x2="317.90" y2="486.24" stroke="#3a3a3a" stroke-width="1.7"/>
<circle cx="448.88" cy="480.94" r="2.7" fill="#b4b4b4"/>
<circle cx="503.28" cy="480.94" r="2.7" fill="#b4b4b4"/>
<circle cx="514.16" cy="480.94" r="2.7" fill="#b4b4b4"/>
<line x1="459.76" y1="480.94" x2="470.64" y2="480.94" stroke="#3a3a3a" stroke-width="1.5"/>
<line x1="481.52" y1="480.94" x2="492.40" y2="480.94" stroke="#3a3a3a" stroke-width="1.5"/>
<rect x="470.64" y="475.94" width="10.88" height="10" fill="#fff" stroke="#3a3a3a" stroke-width="1.5"/>
<circle cx="339.70" cy="494.65" r="2.7" fill="#b4b4b4"/>
<circle cx="350.60" cy="494.65" r="2.7" fill="#b4b4b4"/>
<line x1="296.10" y1="494.65" x2="307.00" y2="494.65" stroke="#3a3a3a" stroke-width="1.5"/>
<line x1="317.90" y1="494.65" x2="328.80" y2="494.65" stroke="#3a3a3a" stroke-width="1.5"/>
<rect x="307.00" y="489.65" width="10.90" height="10" fill="#fff" stroke="#3a3a3a" stroke-width="1.5"/>
<circle cx="525.04" cy="494.65" r="2.7" fill="#b4b4b4"/>
<circle cx="535.92" cy="494.65" r="2.7" fill="#b4b4b4"/>
<circle cx="546.80" cy="494.65" r="2.7" fill="#b4b4b4"/>
<circle cx="557.68" cy="494.65" r="2.7" fill="#b4b4b4"/>
<line x1="438.00" y1="494.65" x2="459.76" y2="494.65" stroke="#3a3a3a" stroke-width="1.5"/>
<line x1="481.52" y1="494.65" x2="514.16" y2="494.65" stroke="#3a3a3a" stroke-width="1.5"/>
<rect x="459.76" y="489.65" width="21.76" height="10" fill="#fff" stroke="#3a3a3a" stroke-width="1.5"/>
<circle cx="296.10" cy="508.37" r="2.7" fill="#b4b4b4"/>
<circle cx="328.80" cy="508.37" r="2.7" fill="#b4b4b4"/>
<line x1="307.00" y1="503.07" x2="307.00" y2="513.67" stroke="#3a3a3a" stroke-width="1.7"/>
<line x1="438.00" y1="508.37" x2="448.88" y2="508.37" stroke="#3a3a3a" stroke-width="1.5"/>
<line x1="459.76" y1="508.37" x2="470.64" y2="508.37" stroke="#3a3a3a" stroke-width="1.5"/>
<rect x="448.88" y="503.37" width="10.88" height="10" fill="#fff" stroke="#3a3a3a" stroke-width="1.5"/>
<circle cx="296.10" cy="522.08" r="2.7" fill="#b4b4b4"/>
<circle cx="317.90" cy="522.08" r="2.7" fill="#b4b4b4"/>
<line x1="307.00" y1="516.78" x2="307.00" y2="527.38" stroke="#3a3a3a" stroke-width="1.7"/>
<circle cx="514.16" cy="522.08" r="2.7" fill="#b4b4b4"/>
<line x1="470.64" y1="522.08" x2="481.52" y2="522.08" stroke="#3a3a3a" stroke-width="1.5"/>
<rect x="448.88" y="517.08" width="21.76" height="10" fill="#fff" stroke="#3a3a3a" stroke-width="1.5"/>
<circle cx="296.10" cy="535.79" r="2.7" fill="#b4b4b4"/>
<line x1="307.00" y1="530.49" x2="307.00" y2="541.09" stroke="#3a3a3a" stroke-width="1.7"/>
<circle cx="438.00" cy="535.79" r="2.7" fill="#b4b4b4"/>
<circle cx="448.88" cy="535.79" r="2.7" fill="#b4b4b4"/>
<circle cx="470.64" cy="535.79" r="2.7" fill="#b4b4b4"/>
<line x1="459.76" y1="530.49" x2="459.76" y2="541.09" stroke="#3a3a3a" stroke-width="1.7"/>
<circle cx="296.10" cy="549.50" r="2.7" fill="#b4b4b4"/>
<circle cx="317.90" cy="549.50" r="2.7" fill="#b4b4b4"/>
<circle cx="328.80" cy="549.50" r="2.7" fill="#b4b4b4"/>
<circle cx="339.70" cy="549.50" r="2.7" fill="#b4b4b4"/>
<circle cx="350.60" cy="549.50" r="2.7" fill="#b4b4b4"/>
<line x1="307.00" y1="544.21" x2="307.00" y2="554.80" stroke="#3a3a3a" stroke-width="1.7"/>
<circle cx="546.80" cy="549.50" r="2.7" fill="#b4b4b4"/>
<line x1="438.00" y1="549.50" x2="459.76" y2="549.50" stroke="#3a3a3a" stroke-width="1.5"/>
<line x1="492.40" y1="549.50" x2="535.92" y2="549.50" stroke="#3a3a3a" stroke-width="1.5"/>
<rect x="459.76" y="544.50" width="32.64" height="10" fill="#fff" stroke="#3a3a3a" stroke-width="1.5"/>
<line x1="470.64" y1="544.50" x2="470.64" y2="554.50" stroke="#3a3a3a" stroke-width="1.6"/>
<rect x="123.70" y="557.6" width="2.6" height="5.2" fill="#333"/>
<text x="125.00" y="579.20" font-size="14" fill="#555" text-anchor="middle" font-weight="normal" >0</text>
<rect x="183.30" y="557.6" width="2.6" height="5.2" fill="#333"/>
<text x="184.60" y="579.20" font-size="14" fill="#555" text-anchor="middle" font-weight="normal" >1</text>
<rect x="199.20" y="557.6" width="2.6" height="5.2" fill="#333"/>
<text x="200.50" y="579.20" font-size="14" fill="#555" text-anchor="middle" font-weight="normal" >0</text>
<rect x="259.00" y="557.6" width="2.6" height="5.2" fill="#333"/>
<text x="260.30" y="579.20" font-size="14" fill="#555" text-anchor="middle" font-weight="normal" >1</text>
<rect x="294.80" y="557.6" width="2.6" height="5.2" fill="#333"/>
<text x="296.10" y="579.20" font-size="14" fill="#555" text-anchor="middle" font-weight="normal" >0</text>
<rect x="436.70" y="557.6" width="2.6" height="5.2" fill="#333"/>
<text x="438.00" y="579.20" font-size="14" fill="#555" text-anchor="middle" font-weight="normal" >0</text>
<rect x="327.50" y="557.6" width="2.6" height="5.2" fill="#333"/>
<text x="328.80" y="579.20" font-size="14" fill="#555" text-anchor="middle" font-weight="normal" >3</text>
<rect x="469.34" y="557.6" width="2.6" height="5.2" fill="#333"/>
<text x="470.64" y="579.20" font-size="14" fill="#555" text-anchor="middle" font-weight="normal" >3</text>
<rect x="360.20" y="557.6" width="2.6" height="5.2" fill="#333"/>
<text x="361.50" y="579.20" font-size="14" fill="#555" text-anchor="middle" font-weight="normal" >6</text>
<rect x="501.98" y="557.6" width="2.6" height="5.2" fill="#333"/>
<text x="503.28" y="579.20" font-size="14" fill="#555" text-anchor="middle" font-weight="normal" >6</text>
<rect x="392.90" y="557.6" width="2.6" height="5.2" fill="#333"/>
<text x="394.20" y="579.20" font-size="14" fill="#555" text-anchor="middle" font-weight="normal" >9</text>
<rect x="534.62" y="557.6" width="2.6" height="5.2" fill="#333"/>
<text x="535.92" y="579.20" font-size="14" fill="#555" text-anchor="middle" font-weight="normal" >9</text>
<text x="196.10" y="600.80" font-size="15.2" fill="#111" text-anchor="middle" font-weight="normal" >Percentage</text>
<text x="417.00" y="601.00" font-size="15" fill="#111" text-anchor="middle" font-weight="normal" >Number</text>
<text x="585.00" y="15.00" font-size="22" fill="#000" text-anchor="start" font-weight="bold" >b</text>
<text x="767.20" y="12.80" font-size="15.75" fill="#111" text-anchor="middle" font-weight="normal" >Conserved syntenic block</text>
<line x1="658.5" y1="49.3" x2="1190.9" y2="49.3" stroke="#a0a0a0" stroke-width="4.8" stroke-linecap="round"/>
<polygon points="664.80,48.75 674.70,27.70 705.30,27.70 705.30,69.80 674.70,69.80" fill="#fff" stroke="#6fd6bb" stroke-width="2.3" stroke-dasharray="7.3,3.2"/>
<polygon points="712.50,48.75 722.70,27.70 754.70,27.70 754.70,69.80 722.70,69.80" fill="#fff" stroke="#6fd6bb" stroke-width="2.3" stroke-dasharray="7.3,3.2"/>
<polygon points="760.00,27.70 796.40,27.70 805.90,48.75 796.40,69.80 760.00,69.80" fill="#000"/>
<polygon points="807.70,48.75 815.70,27.70 844.80,27.70 844.80,69.80 815.70,69.80" fill="#a07fcc"/>
<polygon points="848.20,27.70 925.50,27.70 946.50,48.75 925.50,69.80 848.20,69.80" fill="#a07fcc"/>
<polygon points="949.00,27.70 997.50,27.70 1011.00,48.75 997.50,69.80 949.00,69.80" fill="#a07fcc"/>
<polygon points="1013.40,48.75 1027.50,27.70 1075.00,27.70 1075.00,69.80 1027.50,69.80" fill="#a07fcc"/>
<polygon points="1080.00,27.70 1143.00,27.70 1153.50,48.75 1143.00,69.80 1080.00,69.80" fill="#a07fcc"/>
<text x="683.80" y="53.60" font-size="13" fill="#222" text-anchor="middle" font-weight="bold" >agrB</text>
<text x="733.70" y="53.60" font-size="13" fill="#222" text-anchor="middle" font-weight="bold" >agrA</text>
<text x="779.50" y="53.60" font-size="13" fill="#fff" text-anchor="middle" font-weight="bold" >dinQ</text>
<text x="828.00" y="53.60" font-size="13" fill="#222" text-anchor="middle" font-weight="bold" >Tn3</text>
<text x="889.50" y="53.60" font-size="13.7" fill="#222" text-anchor="middle" font-weight="bold" >IS3000</text>
<text x="979.30" y="53.60" font-size="13.4" fill="#222" text-anchor="middle" font-weight="bold" >IS30</text>
<text x="1047.30" y="53.60" font-size="13.4" fill="#222" text-anchor="middle" font-weight="bold" >IS5</text>
<text x="1116.00" y="53.60" font-size="13" fill="#222" text-anchor="middle" font-weight="bold" >Tn125</text>
<polyline points="674.7,74.7 722.7,100.8 770.7,74.7" fill="none" stroke="#222" stroke-width="0.9"/>
<polyline points="818.1,158.7 865.9,133.3 913.3,158.7" fill="none" stroke="#222" stroke-width="0.9"/>
<line x1="686.5" y1="105.85" x2="928" y2="105.85" stroke="#9e9e9e" stroke-width="2.6" stroke-linecap="round"/>
<line x1="686.5" y1="121.8" x2="928.5" y2="121.8" stroke="#9e9e9e" stroke-width="2.6" stroke-linecap="round"/>
<path d="M819.2,100.4 L848.3,100.4 Q852.3,100.4 854.3,102.4 L857.6,106.2 L854.3,109.9 Q852.3,111.9 848.3,111.9 L819.2,111.9 Q816.2,111.9 816.2,108.9 L816.2,103.4 Q816.2,100.4 819.2,100.4 Z" fill="#fff" stroke="#6fd6bb" stroke-width="2.7" stroke-dasharray="6,3.3"/>
<polygon points="856.6,102.8 863.6,106.2 856.6,109.6" fill="#6fd6bb"/>
<path d="M881.6,100.4 L909.0,100.4 Q913.0,100.4 915.0,102.4 L920.6,106.2 L915.0,109.9 Q913.0,111.9 909.0,111.9 L881.6,111.9 Q878.6,111.9 878.6,108.9 L878.6,103.4 Q878.6,100.4 881.6,100.4 Z" fill="#fff" stroke="#6fd6bb" stroke-width="2.7" stroke-dasharray="6,3.3"/>
<polygon points="919.6,102.8 926.6,106.2 919.6,109.6" fill="#6fd6bb"/>
<polyline points="813.8,106 813.8,90.6 820,90.6" fill="none" stroke="#9e9e9e" stroke-width="2.5"/>
<polygon points="817.3,86.6 827,90.6 817.3,94.6 819.3,90.6" fill="#9e9e9e"/>
<polyline points="873.7,106 873.7,90.6 880,90.6" fill="none" stroke="#9e9e9e" stroke-width="2.5"/>
<polygon points="878,86.6 887.5,90.6 878,94.6 880,90.6" fill="#9e9e9e"/>
<text x="844.00" y="94.70" font-size="13" fill="#222" text-anchor="middle" font-weight="bold" >agrA</text>
<text x="904.50" y="94.50" font-size="13" fill="#222" text-anchor="middle" font-weight="bold" >agrB</text>
<text x="942.00" y="110.20" font-size="15.8" fill="#111" text-anchor="start" font-weight="normal" >Chromosomal locus</text>
<polygon points="694.8,121.8 704.3,116.1 739.5,116.1 739.5,127.1 704.3,127.1" fill="#000"/>
<text x="719.30" y="141.30" font-size="13" fill="#222" text-anchor="middle" font-weight="bold" >dinQ</text>
<rect x="795.5" y="116.5" width="9" height="11" fill="#e05a00"/>
<polyline points="789.9,122 789.9,135.2 782,135.2" fill="none" stroke="#9e9e9e" stroke-width="2.5"/>
<polygon points="785.5,131.2 775.6,135.2 785.5,139.2 783.5,135.2" fill="#9e9e9e"/>
<line x1="650.5" y1="192.4" x2="1190.5" y2="192.4" stroke="#a0a0a0" stroke-width="4.8" stroke-linecap="round"/>
<polygon points="664.50,172.50 712.00,172.50 724.80,193.60 712.00,214.70 664.50,214.70" fill="#9f9f9f"/>
<polygon points="733.30,172.50 762.70,172.50 773.30,193.60 762.70,214.70 733.30,214.70" fill="#9f9f9f"/>
<polygon points="785.30,172.50 814.70,172.50 824.50,193.60 814.70,214.70 785.30,214.70" fill="#9f9f9f"/>
<polygon points="837.90,192.65 848.00,171.30 891.20,171.30 891.20,214.00 848.00,214.00" fill="#fff" stroke="#6fd6bb" stroke-width="2.3" stroke-dasharray="7.3,3.2"/>
<polygon points="903.00,172.50 943.00,172.50 954.70,193.60 943.00,214.70 903.00,214.70" fill="#1a1a1a"/>
<polygon points="961.30,193.60 974.70,172.50 1028.50,172.50 1028.50,214.70 974.70,214.70" fill="#a07fcc"/>
<polygon points="1037.30,172.50 1093.30,172.50 1102.70,193.60 1093.30,214.70 1037.30,214.70" fill="#9f9f9f"/>
<polygon points="1108.80,172.50 1161.30,172.50 1174.70,193.60 1161.30,214.70 1108.80,214.70" fill="#a07fcc"/>
<text x="865.00" y="197.50" font-size="13" fill="#222" text-anchor="middle" font-weight="bold" >agrB</text>
<text x="926.50" y="197.50" font-size="13" fill="#fff" text-anchor="middle" font-weight="bold" >dqlB</text>
<text x="1000.20" y="197.60" font-size="13" fill="#222" text-anchor="middle" font-weight="bold" >Tn3</text>
<text x="1069.60" y="196.20" font-size="10.4" fill="#222" text-anchor="middle" font-weight="bold" >ArsR/SmthB</text>
<text x="1136.00" y="197.60" font-size="13.5" fill="#222" text-anchor="middle" font-weight="bold" >IS26</text>
<text x="1119.00" y="154.70" font-size="15.65" fill="#111" text-anchor="middle" font-weight="normal" >pOXA-484</text>
<text x="585.00" y="254.00" font-size="22" fill="#000" text-anchor="start" font-weight="bold" >c</text>
<text x="776.5" y="255.5" font-size="15.8" fill="#111">LB + Amp<tspan font-size="9.5" dy="3.5">100</tspan></text>
<text x="748" y="424" font-size="15.8" fill="#111">LB + Amp<tspan font-size="9" dy="3.5">100</tspan><tspan dy="-3.5"> + Ara</tspan><tspan font-size="9" dy="3.5">0.2%</tspan></text>
<text x="724.50" y="285.60" font-size="16" fill="#111" text-anchor="end" font-weight="normal" >pBAD30-dqlB</text>
<text x="724.50" y="459.10" font-size="16" fill="#111" text-anchor="end" font-weight="normal" >pBAD30-dqlB</text>
<text x="724.50" y="313.00" font-size="16" fill="#111" text-anchor="end" font-weight="normal" >pBAD30</text>
<text x="724.50" y="486.20" font-size="16" fill="#111" text-anchor="end" font-weight="normal" >pBAD30</text>
<text x="724.50" y="340.00" font-size="16" fill="#111" text-anchor="end" font-weight="normal" >pBAD30-argB-dqlB</text>
<text x="724.50" y="513.40" font-size="16" fill="#111" text-anchor="end" font-weight="normal" >pBAD30-argB-dqlB</text>
<text x="724.50" y="367.60" font-size="16" fill="#111" text-anchor="end" font-weight="normal" >DH5a</text>
<text x="724.50" y="540.50" font-size="16" fill="#111" text-anchor="end" font-weight="normal" >DH5a</text>
<defs><radialGradient id="sp1"><stop offset="0" stop-color="#c9c9c9"/><stop offset="0.8" stop-color="#cdcdcd"/><stop offset="1" stop-color="#d6d6d6"/></radialGradient><radialGradient id="sp2"><stop offset="0" stop-color="#bdbdbd"/><stop offset="0.8" stop-color="#c0c0c0"/><stop offset="1" stop-color="#cbcbcb"/></radialGradient><linearGradient id="pl1" x1="0" x2="1" y1="0" y2="0"><stop offset="0" stop-color="#989898"/><stop offset="1" stop-color="#9e9e9e"/></linearGradient><linearGradient id="pl2" x1="0" x2="1" y1="0" y2="0"><stop offset="0" stop-color="#929292"/><stop offset="1" stop-color="#9d9d9d"/></linearGradient></defs>
<rect x="739.2" y="266" width="172.3" height="110.1" fill="url(#pl1)"/>
<rect x="909.2" y="266" width="2.3" height="34" fill="#b8b8b8"/>
<rect x="740.9" y="440.9" width="167.3" height="106" fill="url(#pl2)"/>
<circle cx="756.4" cy="278.8" r="9.8" fill="url(#sp1)"/>
<circle cx="784.0" cy="278.8" r="9.8" fill="url(#sp2)"/>
<circle cx="780.8" cy="272.5" r="0.7" fill="#c8c8c8"/>
<circle cx="786.7" cy="271.1" r="0.7" fill="#c8c8c8"/>
<circle cx="784.6" cy="276.4" r="0.7" fill="#c8c8c8"/>
<circle cx="776.0" cy="278.9" r="0.7" fill="#c8c8c8"/>
<circle cx="775.7" cy="277.6" r="0.7" fill="#c8c8c8"/>
<circle cx="782.6" cy="284.7" r="0.7" fill="#c8c8c8"/>
<circle cx="777.2" cy="273.8" r="0.7" fill="#c8c8c8"/>
<circle cx="786.3" cy="286.9" r="0.7" fill="#c8c8c8"/>
<circle cx="785.4" cy="276.9" r="0.7" fill="#c8c8c8"/>
<circle cx="790.5" cy="275.0" r="0.7" fill="#c8c8c8"/>
<circle cx="780.6" cy="284.5" r="0.7" fill="#c8c8c8"/>
<circle cx="778.3" cy="280.3" r="0.7" fill="#c8c8c8"/>
<circle cx="786.5" cy="276.5" r="0.7" fill="#c8c8c8"/>
<circle cx="784.9" cy="270.9" r="0.7" fill="#c8c8c8"/>
<circle cx="787.2" cy="277.5" r="0.7" fill="#c8c8c8"/>
<circle cx="780.7" cy="280.3" r="0.7" fill="#c8c8c8"/>
<circle cx="783.2" cy="275.2" r="0.7" fill="#c8c8c8"/>
<circle cx="789.3" cy="282.4" r="0.7" fill="#c8c8c8"/>
<circle cx="779.4" cy="280.1" r="0.7" fill="#c8c8c8"/>
<circle cx="784.5" cy="285.6" r="0.7" fill="#c8c8c8"/>
<circle cx="788.1" cy="275.0" r="0.7" fill="#c8c8c8"/>
<circle cx="782.5" cy="283.4" r="0.7" fill="#c8c8c8"/>
<circle cx="777.7" cy="278.6" r="0.7" fill="#c8c8c8"/>
<circle cx="775.7" cy="281.8" r="0.7" fill="#c8c8c8"/>
<circle cx="788.8" cy="280.1" r="0.7" fill="#c8c8c8"/>
<circle cx="813.3" cy="278.8" r="9.5" fill="#b3b3b3" stroke="#c4c4c4" stroke-width="1.2"/>
<circle cx="819.9" cy="275.5" r="0.6" fill="#c3c3c3"/>
<circle cx="816.7" cy="280.5" r="0.6" fill="#c3c3c3"/>
<circle cx="814.7" cy="278.0" r="0.6" fill="#c3c3c3"/>
<circle cx="812.8" cy="281.7" r="0.6" fill="#c3c3c3"/>
<circle cx="805.6" cy="282.3" r="0.6" fill="#c3c3c3"/>
<circle cx="819.0" cy="275.0" r="0.6" fill="#c3c3c3"/>
<circle cx="811.3" cy="281.8" r="0.6" fill="#c3c3c3"/>
<circle cx="804.9" cy="278.1" r="0.6" fill="#c3c3c3"/>
<circle cx="806.8" cy="274.4" r="0.6" fill="#c3c3c3"/>
<circle cx="811.4" cy="285.3" r="0.6" fill="#c3c3c3"/>
<circle cx="805.9" cy="277.9" r="0.6" fill="#c3c3c3"/>
<circle cx="814.2" cy="285.5" r="0.6" fill="#c3c3c3"/>
<circle cx="818.9" cy="285.2" r="0.6" fill="#c3c3c3"/>
<circle cx="809.4" cy="277.3" r="0.6" fill="#c3c3c3"/>
<circle cx="810.8" cy="285.6" r="0.6" fill="#c3c3c3"/>
<circle cx="807.6" cy="274.1" r="0.6" fill="#c3c3c3"/>
<circle cx="808.6" cy="278.5" r="0.6" fill="#c3c3c3"/>
<circle cx="814.9" cy="274.6" r="0.6" fill="#c3c3c3"/>
<circle cx="811.0" cy="280.0" r="0.6" fill="#c3c3c3"/>
<circle cx="821.3" cy="282.2" r="0.6" fill="#c3c3c3"/>
<circle cx="813.6" cy="280.9" r="0.6" fill="#c3c3c3"/>
<circle cx="816.4" cy="271.0" r="0.6" fill="#c3c3c3"/>
<circle cx="820.3" cy="283.7" r="0.6" fill="#c3c3c3"/>
<circle cx="819.9" cy="284.0" r="0.6" fill="#c3c3c3"/>
<circle cx="811.4" cy="277.0" r="0.6" fill="#c3c3c3"/>
<circle cx="806.3" cy="281.2" r="0.6" fill="#c3c3c3"/>
<circle cx="808.2" cy="272.9" r="0.6" fill="#c3c3c3"/>
<circle cx="810.5" cy="270.9" r="0.6" fill="#c3c3c3"/>
<circle cx="806.3" cy="276.4" r="0.6" fill="#c3c3c3"/>
<circle cx="815.3" cy="272.6" r="0.6" fill="#c3c3c3"/>
<circle cx="808.9" cy="276.1" r="0.6" fill="#c3c3c3"/>
<circle cx="810.9" cy="272.2" r="0.6" fill="#c3c3c3"/>
<circle cx="812.7" cy="278.5" r="0.6" fill="#c3c3c3"/>
<circle cx="810.5" cy="274.7" r="0.6" fill="#c3c3c3"/>
<circle cx="819.1" cy="272.8" r="0.6" fill="#c3c3c3"/>
<circle cx="813.8" cy="272.6" r="0.6" fill="#c3c3c3"/>
<circle cx="814.1" cy="270.5" r="0.6" fill="#c3c3c3"/>
<circle cx="813.8" cy="287.2" r="0.6" fill="#c3c3c3"/>
<circle cx="819.7" cy="282.3" r="0.6" fill="#c3c3c3"/>
<circle cx="809.1" cy="276.5" r="0.6" fill="#c3c3c3"/>
<circle cx="807.4" cy="283.6" r="0.6" fill="#c3c3c3"/>
<circle cx="813.9" cy="283.7" r="0.6" fill="#c3c3c3"/>
<circle cx="810.3" cy="273.9" r="0.6" fill="#c3c3c3"/>
<circle cx="819.5" cy="284.2" r="0.6" fill="#c3c3c3"/>
<circle cx="818.9" cy="283.0" r="0.6" fill="#c3c3c3"/>
<circle cx="808.5" cy="279.1" r="0.6" fill="#c3c3c3"/>
<circle cx="810.8" cy="270.5" r="0.6" fill="#c3c3c3"/>
<circle cx="809.1" cy="282.2" r="0.6" fill="#c3c3c3"/>
<circle cx="821.3" cy="277.9" r="0.6" fill="#c3c3c3"/>
<circle cx="821.3" cy="276.4" r="0.6" fill="#c3c3c3"/>
<circle cx="808.4" cy="274.0" r="0.6" fill="#c3c3c3"/>
<circle cx="808.0" cy="273.6" r="0.6" fill="#c3c3c3"/>
<circle cx="815.5" cy="285.8" r="0.6" fill="#c3c3c3"/>
<circle cx="819.3" cy="278.4" r="0.6" fill="#c3c3c3"/>
<circle cx="816.0" cy="284.1" r="0.6" fill="#c3c3c3"/>
<circle cx="806.0" cy="281.6" r="0.6" fill="#c3c3c3"/>
<circle cx="820.5" cy="283.8" r="0.6" fill="#c3c3c3"/>
<circle cx="817.7" cy="278.4" r="0.6" fill="#c3c3c3"/>
<circle cx="807.6" cy="283.9" r="0.6" fill="#c3c3c3"/>
<circle cx="810.4" cy="284.1" r="0.6" fill="#c3c3c3"/>
<circle cx="821.6" cy="277.0" r="0.6" fill="#c3c3c3"/>
<circle cx="811.6" cy="286.7" r="0.6" fill="#c3c3c3"/>
<circle cx="817.3" cy="273.0" r="0.6" fill="#c3c3c3"/>
<circle cx="807.1" cy="284.5" r="0.6" fill="#c3c3c3"/>
<circle cx="810.7" cy="279.7" r="0.6" fill="#c3c3c3"/>
<circle cx="821.6" cy="281.4" r="0.6" fill="#c3c3c3"/>
<circle cx="813.8" cy="286.4" r="0.6" fill="#c3c3c3"/>
<circle cx="812.1" cy="285.3" r="0.6" fill="#c3c3c3"/>
<circle cx="819.0" cy="273.7" r="0.6" fill="#c3c3c3"/>
<circle cx="808.9" cy="275.2" r="0.6" fill="#c3c3c3"/>
<circle cx="808.7" cy="280.3" r="0.6" fill="#c3c3c3"/>
<circle cx="809.1" cy="277.4" r="0.6" fill="#c3c3c3"/>
<circle cx="810.7" cy="278.1" r="0.6" fill="#c3c3c3"/>
<circle cx="814.8" cy="285.9" r="0.6" fill="#c3c3c3"/>
<circle cx="811.9" cy="286.2" r="0.6" fill="#c3c3c3"/>
<circle cx="813.3" cy="279.4" r="0.6" fill="#c3c3c3"/>
<circle cx="813.7" cy="270.3" r="0.6" fill="#c3c3c3"/>
<circle cx="812.2" cy="273.2" r="0.6" fill="#c3c3c3"/>
<circle cx="807.5" cy="278.3" r="0.6" fill="#c3c3c3"/>
<circle cx="817.3" cy="279.8" r="0.6" fill="#c3c3c3"/>
<circle cx="810.2" cy="279.1" r="0.6" fill="#c3c3c3"/>
<circle cx="814.3" cy="283.8" r="0.6" fill="#c3c3c3"/>
<circle cx="806.4" cy="279.9" r="0.6" fill="#c3c3c3"/>
<circle cx="808.9" cy="274.9" r="0.6" fill="#c3c3c3"/>
<circle cx="818.1" cy="278.9" r="0.6" fill="#c3c3c3"/>
<circle cx="814.4" cy="283.4" r="0.6" fill="#c3c3c3"/>
<circle cx="820.6" cy="277.8" r="0.6" fill="#c3c3c3"/>
<circle cx="815.3" cy="278.9" r="0.6" fill="#c3c3c3"/>
<circle cx="813.5" cy="282.2" r="0.6" fill="#c3c3c3"/>
<circle cx="812.5" cy="279.4" r="0.6" fill="#c3c3c3"/>
<circle cx="842.4" cy="278.8" r="9.4" fill="#a3a3a3" stroke="#bcbcbc" stroke-width="1" stroke-dasharray="1.5,1"/>
<circle cx="842.0" cy="286.6" r="0.7" fill="#c6c6c6"/>
<circle cx="845.9" cy="285.4" r="0.7" fill="#c6c6c6"/>
<circle cx="843.4" cy="286.6" r="0.7" fill="#c6c6c6"/>
<circle cx="848.4" cy="272.4" r="0.7" fill="#c6c6c6"/>
<circle cx="835.7" cy="277.8" r="0.7" fill="#c6c6c6"/>
<circle cx="834.9" cy="274.2" r="0.7" fill="#c6c6c6"/>
<circle cx="834.9" cy="281.8" r="0.7" fill="#c6c6c6"/>
<circle cx="847.4" cy="285.8" r="0.7" fill="#c6c6c6"/>
<circle cx="836.3" cy="282.6" r="0.7" fill="#c6c6c6"/>
<circle cx="845.2" cy="272.5" r="0.7" fill="#c6c6c6"/>
<circle cx="840.6" cy="278.6" r="0.7" fill="#c6c6c6"/>
<circle cx="836.4" cy="277.6" r="0.7" fill="#c6c6c6"/>
<circle cx="842.7" cy="276.0" r="0.7" fill="#c6c6c6"/>
<circle cx="837.0" cy="275.6" r="0.7" fill="#c6c6c6"/>
<circle cx="843.4" cy="277.8" r="0.7" fill="#c6c6c6"/>
<circle cx="844.6" cy="279.0" r="0.7" fill="#c6c6c6"/>
<circle cx="835.4" cy="274.7" r="0.7" fill="#c6c6c6"/>
<circle cx="838.4" cy="272.3" r="0.7" fill="#c6c6c6"/>
<circle cx="841.0" cy="286.0" r="0.7" fill="#c6c6c6"/>
<circle cx="848.0" cy="274.6" r="0.7" fill="#c6c6c6"/>
<circle cx="843.6" cy="282.3" r="0.7" fill="#c6c6c6"/>
<circle cx="845.7" cy="277.5" r="0.7" fill="#c6c6c6"/>
<circle cx="844.8" cy="284.1" r="0.7" fill="#c6c6c6"/>
<circle cx="841.6" cy="276.0" r="0.7" fill="#c6c6c6"/>
<circle cx="843.3" cy="286.3" r="0.7" fill="#c6c6c6"/>
<circle cx="838.3" cy="272.3" r="0.7" fill="#c6c6c6"/>
<circle cx="842.9" cy="274.2" r="0.7" fill="#c6c6c6"/>
<circle cx="839.1" cy="275.4" r="0.7" fill="#c6c6c6"/>
<circle cx="847.0" cy="275.1" r="0.7" fill="#c6c6c6"/>
<circle cx="842.4" cy="273.1" r="0.7" fill="#c6c6c6"/>
<circle cx="846.5" cy="279.7" r="0.7" fill="#c6c6c6"/>
<circle cx="836.9" cy="278.4" r="0.7" fill="#c6c6c6"/>
<circle cx="848.0" cy="277.6" r="0.7" fill="#c6c6c6"/>
<circle cx="842.3" cy="284.7" r="0.7" fill="#c6c6c6"/>
<circle cx="840.5" cy="278.9" r="0.7" fill="#c6c6c6"/>
<circle cx="839.6" cy="284.6" r="0.7" fill="#c6c6c6"/>
<circle cx="846.0" cy="281.2" r="0.7" fill="#c6c6c6"/>
<circle cx="840.7" cy="276.1" r="0.7" fill="#c6c6c6"/>
<circle cx="834.8" cy="283.0" r="0.7" fill="#c6c6c6"/>
<circle cx="838.1" cy="272.9" r="0.7" fill="#c6c6c6"/>
<circle cx="878.2" cy="282.0" r="0.75" fill="#c4c4c4"/>
<circle cx="867.1" cy="273.9" r="0.75" fill="#c4c4c4"/>
<circle cx="864.7" cy="277.8" r="0.75" fill="#c4c4c4"/>
<circle cx="880.2" cy="279.7" r="0.75" fill="#c4c4c4"/>
<circle cx="867.6" cy="276.1" r="0.75" fill="#c4c4c4"/>
<circle cx="865.5" cy="278.9" r="0.75" fill="#c4c4c4"/>
<circle cx="863.4" cy="276.9" r="0.75" fill="#c4c4c4"/>
<circle cx="867.5" cy="273.7" r="0.75" fill="#c4c4c4"/>
<circle cx="876.0" cy="281.8" r="0.75" fill="#c4c4c4"/>
<circle cx="875.3" cy="286.0" r="0.75" fill="#c4c4c4"/>
<circle cx="875.5" cy="281.5" r="0.75" fill="#c4c4c4"/>
<circle cx="878.6" cy="281.2" r="0.75" fill="#c4c4c4"/>
<circle cx="875.6" cy="284.7" r="0.75" fill="#c4c4c4"/>
<circle cx="864.3" cy="279.3" r="0.75" fill="#c4c4c4"/>
<circle cx="871.3" cy="285.2" r="0.75" fill="#c4c4c4"/>
<circle cx="877.0" cy="285.0" r="0.75" fill="#c4c4c4"/>
<circle cx="872.8" cy="286.3" r="0.75" fill="#c4c4c4"/>
<circle cx="874.7" cy="282.5" r="0.75" fill="#c4c4c4"/>
<circle cx="864.2" cy="276.2" r="0.75" fill="#c4c4c4"/>
<circle cx="871.0" cy="269.4" r="0.75" fill="#c4c4c4"/>
<circle cx="876.9" cy="283.5" r="0.75" fill="#c4c4c4"/>
<circle cx="874.2" cy="270.6" r="0.75" fill="#c4c4c4"/>
<circle cx="875.7" cy="274.1" r="0.75" fill="#c4c4c4"/>
<circle cx="863.1" cy="274.3" r="0.75" fill="#c4c4c4"/>
<circle cx="902.6" cy="272.9" r="0.7" fill="#c4c4c4"/>
<circle cx="897.9" cy="276.5" r="0.7" fill="#c4c4c4"/>
<circle cx="897.6" cy="282.5" r="0.7" fill="#c4c4c4"/>
<circle cx="903.3" cy="281.1" r="0.7" fill="#c4c4c4"/>
<circle cx="900.9" cy="270.3" r="0.7" fill="#c4c4c4"/>
<circle cx="756.4" cy="308.0" r="9.8" fill="url(#sp1)"/>
<circle cx="784.0" cy="308.0" r="9.8" fill="url(#sp2)"/>
<circle cx="777.7" cy="303.6" r="0.7" fill="#c8c8c8"/>
<circle cx="788.4" cy="304.5" r="0.7" fill="#c8c8c8"/>
<circle cx="785.2" cy="299.2" r="0.7" fill="#c8c8c8"/>
<circle cx="776.1" cy="303.8" r="0.7" fill="#c8c8c8"/>
<circle cx="787.1" cy="311.5" r="0.7" fill="#c8c8c8"/>
<circle cx="787.2" cy="304.2" r="0.7" fill="#c8c8c8"/>
<circle cx="784.3" cy="307.4" r="0.7" fill="#c8c8c8"/>
<circle cx="783.4" cy="301.1" r="0.7" fill="#c8c8c8"/>
<circle cx="791.1" cy="302.6" r="0.7" fill="#c8c8c8"/>
<circle cx="775.3" cy="307.3" r="0.7" fill="#c8c8c8"/>
<circle cx="783.1" cy="303.8" r="0.7" fill="#c8c8c8"/>
<circle cx="778.8" cy="309.5" r="0.7" fill="#c8c8c8"/>
<circle cx="777.6" cy="308.4" r="0.7" fill="#c8c8c8"/>
<circle cx="789.8" cy="308.2" r="0.7" fill="#c8c8c8"/>
<circle cx="791.0" cy="311.7" r="0.7" fill="#c8c8c8"/>
<circle cx="779.2" cy="315.2" r="0.7" fill="#c8c8c8"/>
<circle cx="783.8" cy="299.4" r="0.7" fill="#c8c8c8"/>
<circle cx="775.1" cy="307.9" r="0.7" fill="#c8c8c8"/>
<circle cx="783.1" cy="304.4" r="0.7" fill="#c8c8c8"/>
<circle cx="777.5" cy="305.2" r="0.7" fill="#c8c8c8"/>
<circle cx="780.7" cy="314.1" r="0.7" fill="#c8c8c8"/>
<circle cx="791.7" cy="311.8" r="0.7" fill="#c8c8c8"/>
<circle cx="791.2" cy="304.2" r="0.7" fill="#c8c8c8"/>
<circle cx="781.7" cy="306.1" r="0.7" fill="#c8c8c8"/>
<circle cx="781.5" cy="306.7" r="0.7" fill="#c8c8c8"/>
<circle cx="813.3" cy="308.0" r="9.5" fill="#b3b3b3" stroke="#c4c4c4" stroke-width="1.2"/>
<circle cx="809.5" cy="315.7" r="0.6" fill="#c3c3c3"/>
<circle cx="808.9" cy="303.9" r="0.6" fill="#c3c3c3"/>
<circle cx="813.5" cy="302.5" r="0.6" fill="#c3c3c3"/>
<circle cx="811.1" cy="316.0" r="0.6" fill="#c3c3c3"/>
<circle cx="820.1" cy="313.5" r="0.6" fill="#c3c3c3"/>
<circle cx="815.6" cy="315.3" r="0.6" fill="#c3c3c3"/>
<circle cx="821.1" cy="308.9" r="0.6" fill="#c3c3c3"/>
<circle cx="817.4" cy="307.1" r="0.6" fill="#c3c3c3"/>
<circle cx="817.7" cy="310.5" r="0.6" fill="#c3c3c3"/>
<circle cx="809.5" cy="300.1" r="0.6" fill="#c3c3c3"/>
<circle cx="812.8" cy="305.2" r="0.6" fill="#c3c3c3"/>
<circle cx="809.7" cy="312.2" r="0.6" fill="#c3c3c3"/>
<circle cx="816.0" cy="304.5" r="0.6" fill="#c3c3c3"/>
<circle cx="814.3" cy="306.1" r="0.6" fill="#c3c3c3"/>
<circle cx="807.4" cy="302.0" r="0.6" fill="#c3c3c3"/>
<circle cx="813.2" cy="303.1" r="0.6" fill="#c3c3c3"/>
<circle cx="812.4" cy="301.7" r="0.6" fill="#c3c3c3"/>
<circle cx="810.5" cy="300.8" r="0.6" fill="#c3c3c3"/>
<circle cx="808.7" cy="303.7" r="0.6" fill="#c3c3c3"/>
<circle cx="814.5" cy="314.8" r="0.6" fill="#c3c3c3"/>
<circle cx="817.7" cy="306.5" r="0.6" fill="#c3c3c3"/>
<circle cx="811.8" cy="308.4" r="0.6" fill="#c3c3c3"/>
<circle cx="811.1" cy="305.2" r="0.6" fill="#c3c3c3"/>
<circle cx="805.6" cy="304.1" r="0.6" fill="#c3c3c3"/>
<circle cx="813.4" cy="310.3" r="0.6" fill="#c3c3c3"/>
<circle cx="819.7" cy="303.0" r="0.6" fill="#c3c3c3"/>
<circle cx="809.3" cy="303.6" r="0.6" fill="#c3c3c3"/>
<circle cx="811.5" cy="307.0" r="0.6" fill="#c3c3c3"/>
<circle cx="820.3" cy="307.5" r="0.6" fill="#c3c3c3"/>
<circle cx="811.4" cy="315.5" r="0.6" fill="#c3c3c3"/>
<circle cx="819.0" cy="314.3" r="0.6" fill="#c3c3c3"/>
<circle cx="813.7" cy="311.2" r="0.6" fill="#c3c3c3"/>
<circle cx="821.1" cy="311.9" r="0.6" fill="#c3c3c3"/>
<circle cx="815.9" cy="312.7" r="0.6" fill="#c3c3c3"/>
<circle cx="812.5" cy="308.9" r="0.6" fill="#c3c3c3"/>
<circle cx="808.6" cy="315.4" r="0.6" fill="#c3c3c3"/>
<circle cx="815.9" cy="304.5" r="0.6" fill="#c3c3c3"/>
<circle cx="806.8" cy="303.6" r="0.6" fill="#c3c3c3"/>
<circle cx="815.7" cy="311.5" r="0.6" fill="#c3c3c3"/>
<circle cx="813.7" cy="309.5" r="0.6" fill="#c3c3c3"/>
<circle cx="811.3" cy="303.1" r="0.6" fill="#c3c3c3"/>
<circle cx="815.1" cy="299.4" r="0.6" fill="#c3c3c3"/>
<circle cx="809.8" cy="307.3" r="0.6" fill="#c3c3c3"/>
<circle cx="821.4" cy="310.5" r="0.6" fill="#c3c3c3"/>
<circle cx="820.1" cy="307.6" r="0.6" fill="#c3c3c3"/>
<circle cx="808.6" cy="303.5" r="0.6" fill="#c3c3c3"/>
<circle cx="813.3" cy="311.1" r="0.6" fill="#c3c3c3"/>
<circle cx="811.9" cy="303.7" r="0.6" fill="#c3c3c3"/>
<circle cx="816.2" cy="315.5" r="0.6" fill="#c3c3c3"/>
<circle cx="810.4" cy="306.6" r="0.6" fill="#c3c3c3"/>
<circle cx="816.5" cy="302.7" r="0.6" fill="#c3c3c3"/>
<circle cx="818.5" cy="312.2" r="0.6" fill="#c3c3c3"/>
<circle cx="813.4" cy="302.8" r="0.6" fill="#c3c3c3"/>
<circle cx="818.9" cy="303.3" r="0.6" fill="#c3c3c3"/>
<circle cx="808.4" cy="312.6" r="0.6" fill="#c3c3c3"/>
<circle cx="809.7" cy="316.0" r="0.6" fill="#c3c3c3"/>
<circle cx="813.2" cy="302.5" r="0.6" fill="#c3c3c3"/>
<circle cx="808.4" cy="306.5" r="0.6" fill="#c3c3c3"/>
<circle cx="816.2" cy="315.9" r="0.6" fill="#c3c3c3"/>
<circle cx="807.1" cy="306.1" r="0.6" fill="#c3c3c3"/>
<circle cx="805.6" cy="306.1" r="0.6" fill="#c3c3c3"/>
<circle cx="820.9" cy="305.0" r="0.6" fill="#c3c3c3"/>
<circle cx="816.2" cy="305.9" r="0.6" fill="#c3c3c3"/>
<circle cx="811.1" cy="305.0" r="0.6" fill="#c3c3c3"/>
<circle cx="809.4" cy="305.4" r="0.6" fill="#c3c3c3"/>
<circle cx="810.8" cy="313.7" r="0.6" fill="#c3c3c3"/>
<circle cx="819.0" cy="306.8" r="0.6" fill="#c3c3c3"/>
<circle cx="805.4" cy="307.5" r="0.6" fill="#c3c3c3"/>
<circle cx="811.1" cy="315.4" r="0.6" fill="#c3c3c3"/>
<circle cx="807.9" cy="305.6" r="0.6" fill="#c3c3c3"/>
<circle cx="811.7" cy="313.5" r="0.6" fill="#c3c3c3"/>
<circle cx="820.7" cy="303.7" r="0.6" fill="#c3c3c3"/>
<circle cx="817.7" cy="315.0" r="0.6" fill="#c3c3c3"/>
<circle cx="810.5" cy="304.0" r="0.6" fill="#c3c3c3"/>
<circle cx="821.4" cy="310.1" r="0.6" fill="#c3c3c3"/>
<circle cx="809.1" cy="311.8" r="0.6" fill="#c3c3c3"/>
<circle cx="810.1" cy="304.1" r="0.6" fill="#c3c3c3"/>
<circle cx="820.6" cy="310.4" r="0.6" fill="#c3c3c3"/>
<circle cx="808.6" cy="307.6" r="0.6" fill="#c3c3c3"/>
<circle cx="811.3" cy="303.6" r="0.6" fill="#c3c3c3"/>
<circle cx="812.1" cy="307.9" r="0.6" fill="#c3c3c3"/>
<circle cx="818.6" cy="312.2" r="0.6" fill="#c3c3c3"/>
<circle cx="819.0" cy="312.8" r="0.6" fill="#c3c3c3"/>
<circle cx="815.2" cy="305.0" r="0.6" fill="#c3c3c3"/>
<circle cx="810.1" cy="305.6" r="0.6" fill="#c3c3c3"/>
<circle cx="808.0" cy="312.5" r="0.6" fill="#c3c3c3"/>
<circle cx="805.1" cy="308.9" r="0.6" fill="#c3c3c3"/>
<circle cx="809.2" cy="300.7" r="0.6" fill="#c3c3c3"/>
<circle cx="806.2" cy="308.0" r="0.6" fill="#c3c3c3"/>
<circle cx="817.0" cy="307.1" r="0.6" fill="#c3c3c3"/>
<circle cx="842.4" cy="308.0" r="9.4" fill="#a3a3a3" stroke="#bcbcbc" stroke-width="1" stroke-dasharray="1.5,1"/>
<circle cx="837.7" cy="306.5" r="0.7" fill="#c6c6c6"/>
<circle cx="844.5" cy="311.1" r="0.7" fill="#c6c6c6"/>
<circle cx="846.8" cy="314.1" r="0.7" fill="#c6c6c6"/>
<circle cx="845.3" cy="301.3" r="0.7" fill="#c6c6c6"/>
<circle cx="848.4" cy="304.4" r="0.7" fill="#c6c6c6"/>
<circle cx="843.6" cy="305.8" r="0.7" fill="#c6c6c6"/>
<circle cx="846.6" cy="302.7" r="0.7" fill="#c6c6c6"/>
<circle cx="838.0" cy="303.5" r="0.7" fill="#c6c6c6"/>
<circle cx="843.8" cy="304.9" r="0.7" fill="#c6c6c6"/>
<circle cx="842.5" cy="303.3" r="0.7" fill="#c6c6c6"/>
<circle cx="847.8" cy="310.7" r="0.7" fill="#c6c6c6"/>
<circle cx="842.0" cy="313.6" r="0.7" fill="#c6c6c6"/>
<circle cx="835.7" cy="302.5" r="0.7" fill="#c6c6c6"/>
<circle cx="850.7" cy="309.5" r="0.7" fill="#c6c6c6"/>
<circle cx="850.0" cy="305.8" r="0.7" fill="#c6c6c6"/>
<circle cx="848.8" cy="307.1" r="0.7" fill="#c6c6c6"/>
<circle cx="838.2" cy="312.9" r="0.7" fill="#c6c6c6"/>
<circle cx="844.1" cy="310.1" r="0.7" fill="#c6c6c6"/>
<circle cx="837.4" cy="305.7" r="0.7" fill="#c6c6c6"/>
<circle cx="836.1" cy="302.8" r="0.7" fill="#c6c6c6"/>
<circle cx="838.1" cy="309.7" r="0.7" fill="#c6c6c6"/>
<circle cx="845.1" cy="302.8" r="0.7" fill="#c6c6c6"/>
<circle cx="845.5" cy="302.5" r="0.7" fill="#c6c6c6"/>
<circle cx="839.1" cy="302.8" r="0.7" fill="#c6c6c6"/>
<circle cx="847.6" cy="308.8" r="0.7" fill="#c6c6c6"/>
<circle cx="840.6" cy="308.9" r="0.7" fill="#c6c6c6"/>
<circle cx="844.8" cy="300.8" r="0.7" fill="#c6c6c6"/>
<circle cx="836.5" cy="311.4" r="0.7" fill="#c6c6c6"/>
<circle cx="840.8" cy="304.2" r="0.7" fill="#c6c6c6"/>
<circle cx="839.0" cy="316.0" r="0.7" fill="#c6c6c6"/>
<circle cx="839.1" cy="309.2" r="0.7" fill="#c6c6c6"/>
<circle cx="839.9" cy="306.5" r="0.7" fill="#c6c6c6"/>
<circle cx="840.0" cy="302.7" r="0.7" fill="#c6c6c6"/>
<circle cx="846.4" cy="302.8" r="0.7" fill="#c6c6c6"/>
<circle cx="841.1" cy="313.6" r="0.7" fill="#c6c6c6"/>
<circle cx="840.7" cy="314.7" r="0.7" fill="#c6c6c6"/>
<circle cx="841.7" cy="302.1" r="0.7" fill="#c6c6c6"/>
<circle cx="833.9" cy="308.9" r="0.7" fill="#c6c6c6"/>
<circle cx="844.9" cy="315.2" r="0.7" fill="#c6c6c6"/>
<circle cx="835.2" cy="310.2" r="0.7" fill="#c6c6c6"/>
<circle cx="864.5" cy="303.9" r="0.75" fill="#c4c4c4"/>
<circle cx="871.6" cy="316.1" r="0.75" fill="#c4c4c4"/>
<circle cx="863.8" cy="307.8" r="0.75" fill="#c4c4c4"/>
<circle cx="865.4" cy="300.9" r="0.75" fill="#c4c4c4"/>
<circle cx="870.9" cy="299.5" r="0.75" fill="#c4c4c4"/>
<circle cx="879.3" cy="305.9" r="0.75" fill="#c4c4c4"/>
<circle cx="878.9" cy="310.3" r="0.75" fill="#c4c4c4"/>
<circle cx="877.4" cy="301.5" r="0.75" fill="#c4c4c4"/>
<circle cx="876.6" cy="302.7" r="0.75" fill="#c4c4c4"/>
<circle cx="869.4" cy="314.6" r="0.75" fill="#c4c4c4"/>
<circle cx="877.5" cy="302.0" r="0.75" fill="#c4c4c4"/>
<circle cx="865.8" cy="306.1" r="0.75" fill="#c4c4c4"/>
<circle cx="864.0" cy="303.2" r="0.75" fill="#c4c4c4"/>
<circle cx="875.5" cy="315.5" r="0.75" fill="#c4c4c4"/>
<circle cx="862.5" cy="309.2" r="0.75" fill="#c4c4c4"/>
<circle cx="873.6" cy="304.3" r="0.75" fill="#c4c4c4"/>
<circle cx="862.1" cy="310.3" r="0.75" fill="#c4c4c4"/>
<circle cx="871.0" cy="303.0" r="0.75" fill="#c4c4c4"/>
<circle cx="876.2" cy="313.3" r="0.75" fill="#c4c4c4"/>
<circle cx="870.4" cy="301.9" r="0.75" fill="#c4c4c4"/>
<circle cx="870.7" cy="300.5" r="0.75" fill="#c4c4c4"/>
<circle cx="864.1" cy="306.7" r="0.75" fill="#c4c4c4"/>
<circle cx="863.4" cy="306.9" r="0.75" fill="#c4c4c4"/>
<circle cx="871.4" cy="299.3" r="0.75" fill="#c4c4c4"/>
<circle cx="900.7" cy="299.6" r="0.7" fill="#c4c4c4"/>
<circle cx="902.7" cy="313.6" r="0.7" fill="#c4c4c4"/>
<circle cx="898.2" cy="299.1" r="0.7" fill="#c4c4c4"/>
<circle cx="898.1" cy="305.6" r="0.7" fill="#c4c4c4"/>
<circle cx="902.6" cy="314.3" r="0.7" fill="#c4c4c4"/>
<circle cx="756.4" cy="336.8" r="9.8" fill="url(#sp1)"/>
<circle cx="784.0" cy="336.8" r="9.8" fill="url(#sp2)"/>
<circle cx="783.9" cy="345.0" r="0.7" fill="#c8c8c8"/>
<circle cx="776.2" cy="334.1" r="0.7" fill="#c8c8c8"/>
<circle cx="788.6" cy="330.7" r="0.7" fill="#c8c8c8"/>
<circle cx="791.1" cy="332.7" r="0.7" fill="#c8c8c8"/>
<circle cx="789.7" cy="330.4" r="0.7" fill="#c8c8c8"/>
<circle cx="784.0" cy="344.4" r="0.7" fill="#c8c8c8"/>
<circle cx="778.7" cy="332.5" r="0.7" fill="#c8c8c8"/>
<circle cx="784.1" cy="333.5" r="0.7" fill="#c8c8c8"/>
<circle cx="787.2" cy="343.9" r="0.7" fill="#c8c8c8"/>
<circle cx="778.0" cy="341.9" r="0.7" fill="#c8c8c8"/>
<circle cx="777.1" cy="337.4" r="0.7" fill="#c8c8c8"/>
<circle cx="786.5" cy="334.3" r="0.7" fill="#c8c8c8"/>
<circle cx="790.7" cy="337.8" r="0.7" fill="#c8c8c8"/>
<circle cx="785.4" cy="343.7" r="0.7" fill="#c8c8c8"/>
<circle cx="786.3" cy="334.9" r="0.7" fill="#c8c8c8"/>
<circle cx="789.4" cy="332.6" r="0.7" fill="#c8c8c8"/>
<circle cx="792.8" cy="338.2" r="0.7" fill="#c8c8c8"/>
<circle cx="781.5" cy="341.6" r="0.7" fill="#c8c8c8"/>
<circle cx="783.0" cy="331.0" r="0.7" fill="#c8c8c8"/>
<circle cx="789.8" cy="332.4" r="0.7" fill="#c8c8c8"/>
<circle cx="785.5" cy="339.7" r="0.7" fill="#c8c8c8"/>
<circle cx="786.1" cy="335.6" r="0.7" fill="#c8c8c8"/>
<circle cx="784.2" cy="343.9" r="0.7" fill="#c8c8c8"/>
<circle cx="777.4" cy="331.9" r="0.7" fill="#c8c8c8"/>
<circle cx="776.9" cy="334.2" r="0.7" fill="#c8c8c8"/>
<circle cx="813.3" cy="336.8" r="9.5" fill="#b3b3b3" stroke="#c4c4c4" stroke-width="1.2"/>
<circle cx="808.4" cy="338.3" r="0.6" fill="#c3c3c3"/>
<circle cx="814.9" cy="331.6" r="0.6" fill="#c3c3c3"/>
<circle cx="815.5" cy="336.4" r="0.6" fill="#c3c3c3"/>
<circle cx="808.8" cy="330.6" r="0.6" fill="#c3c3c3"/>
<circle cx="806.2" cy="339.2" r="0.6" fill="#c3c3c3"/>
<circle cx="819.8" cy="341.8" r="0.6" fill="#c3c3c3"/>
<circle cx="811.6" cy="332.7" r="0.6" fill="#c3c3c3"/>
<circle cx="814.4" cy="334.2" r="0.6" fill="#c3c3c3"/>
<circle cx="815.9" cy="335.8" r="0.6" fill="#c3c3c3"/>
<circle cx="821.0" cy="340.9" r="0.6" fill="#c3c3c3"/>
<circle cx="808.9" cy="343.9" r="0.6" fill="#c3c3c3"/>
<circle cx="805.3" cy="337.4" r="0.6" fill="#c3c3c3"/>
<circle cx="811.6" cy="332.2" r="0.6" fill="#c3c3c3"/>
<circle cx="804.7" cy="337.7" r="0.6" fill="#c3c3c3"/>
<circle cx="808.0" cy="338.7" r="0.6" fill="#c3c3c3"/>
<circle cx="813.4" cy="339.3" r="0.6" fill="#c3c3c3"/>
<circle cx="818.8" cy="331.1" r="0.6" fill="#c3c3c3"/>
<circle cx="809.9" cy="333.3" r="0.6" fill="#c3c3c3"/>
<circle cx="818.3" cy="340.6" r="0.6" fill="#c3c3c3"/>
<circle cx="817.6" cy="336.2" r="0.6" fill="#c3c3c3"/>
<circle cx="817.6" cy="336.0" r="0.6" fill="#c3c3c3"/>
<circle cx="808.5" cy="329.9" r="0.6" fill="#c3c3c3"/>
<circle cx="810.4" cy="341.2" r="0.6" fill="#c3c3c3"/>
<circle cx="816.7" cy="342.9" r="0.6" fill="#c3c3c3"/>
<circle cx="817.0" cy="332.7" r="0.6" fill="#c3c3c3"/>
<circle cx="814.2" cy="335.7" r="0.6" fill="#c3c3c3"/>
<circle cx="818.4" cy="337.2" r="0.6" fill="#c3c3c3"/>
<circle cx="809.2" cy="339.3" r="0.6" fill="#c3c3c3"/>
<circle cx="809.1" cy="332.2" r="0.6" fill="#c3c3c3"/>
<circle cx="817.6" cy="333.8" r="0.6" fill="#c3c3c3"/>
<circle cx="820.0" cy="333.8" r="0.6" fill="#c3c3c3"/>
<circle cx="808.7" cy="344.0" r="0.6" fill="#c3c3c3"/>
<circle cx="815.6" cy="340.2" r="0.6" fill="#c3c3c3"/>
<circle cx="812.8" cy="342.8" r="0.6" fill="#c3c3c3"/>
<circle cx="816.8" cy="343.1" r="0.6" fill="#c3c3c3"/>
<circle cx="812.2" cy="340.8" r="0.6" fill="#c3c3c3"/>
<circle cx="814.5" cy="333.4" r="0.6" fill="#c3c3c3"/>
<circle cx="808.2" cy="339.0" r="0.6" fill="#c3c3c3"/>
<circle cx="810.6" cy="330.5" r="0.6" fill="#c3c3c3"/>
<circle cx="816.7" cy="339.2" r="0.6" fill="#c3c3c3"/>
<circle cx="816.8" cy="341.0" r="0.6" fill="#c3c3c3"/>
<circle cx="805.7" cy="338.4" r="0.6" fill="#c3c3c3"/>
<circle cx="810.9" cy="342.4" r="0.6" fill="#c3c3c3"/>
<circle cx="806.4" cy="331.6" r="0.6" fill="#c3c3c3"/>
<circle cx="819.4" cy="342.3" r="0.6" fill="#c3c3c3"/>
<circle cx="815.7" cy="342.5" r="0.6" fill="#c3c3c3"/>
<circle cx="815.6" cy="333.1" r="0.6" fill="#c3c3c3"/>
<circle cx="817.8" cy="331.6" r="0.6" fill="#c3c3c3"/>
<circle cx="810.1" cy="335.5" r="0.6" fill="#c3c3c3"/>
<circle cx="809.5" cy="340.6" r="0.6" fill="#c3c3c3"/>
<circle cx="811.0" cy="333.6" r="0.6" fill="#c3c3c3"/>
<circle cx="821.5" cy="336.9" r="0.6" fill="#c3c3c3"/>
<circle cx="819.5" cy="338.9" r="0.6" fill="#c3c3c3"/>
<circle cx="805.0" cy="335.3" r="0.6" fill="#c3c3c3"/>
<circle cx="812.2" cy="341.6" r="0.6" fill="#c3c3c3"/>
<circle cx="810.6" cy="340.4" r="0.6" fill="#c3c3c3"/>
<circle cx="814.0" cy="331.8" r="0.6" fill="#c3c3c3"/>
<circle cx="818.9" cy="331.0" r="0.6" fill="#c3c3c3"/>
<circle cx="804.6" cy="336.6" r="0.6" fill="#c3c3c3"/>
<circle cx="813.2" cy="342.0" r="0.6" fill="#c3c3c3"/>
<circle cx="807.7" cy="336.7" r="0.6" fill="#c3c3c3"/>
<circle cx="810.6" cy="342.6" r="0.6" fill="#c3c3c3"/>
<circle cx="809.5" cy="331.8" r="0.6" fill="#c3c3c3"/>
<circle cx="816.8" cy="336.8" r="0.6" fill="#c3c3c3"/>
<circle cx="806.4" cy="339.2" r="0.6" fill="#c3c3c3"/>
<circle cx="816.8" cy="341.9" r="0.6" fill="#c3c3c3"/>
<circle cx="815.6" cy="334.3" r="0.6" fill="#c3c3c3"/>
<circle cx="811.6" cy="334.9" r="0.6" fill="#c3c3c3"/>
<circle cx="808.1" cy="332.6" r="0.6" fill="#c3c3c3"/>
<circle cx="820.4" cy="336.8" r="0.6" fill="#c3c3c3"/>
<circle cx="811.2" cy="343.6" r="0.6" fill="#c3c3c3"/>
<circle cx="808.6" cy="336.1" r="0.6" fill="#c3c3c3"/>
<circle cx="813.9" cy="341.3" r="0.6" fill="#c3c3c3"/>
<circle cx="817.8" cy="339.4" r="0.6" fill="#c3c3c3"/>
<circle cx="810.6" cy="333.7" r="0.6" fill="#c3c3c3"/>
<circle cx="807.2" cy="342.8" r="0.6" fill="#c3c3c3"/>
<circle cx="816.2" cy="341.1" r="0.6" fill="#c3c3c3"/>
<circle cx="807.5" cy="335.7" r="0.6" fill="#c3c3c3"/>
<circle cx="818.1" cy="338.2" r="0.6" fill="#c3c3c3"/>
<circle cx="806.7" cy="336.1" r="0.6" fill="#c3c3c3"/>
<circle cx="820.1" cy="332.2" r="0.6" fill="#c3c3c3"/>
<circle cx="807.9" cy="333.3" r="0.6" fill="#c3c3c3"/>
<circle cx="816.9" cy="342.8" r="0.6" fill="#c3c3c3"/>
<circle cx="807.2" cy="330.7" r="0.6" fill="#c3c3c3"/>
<circle cx="808.9" cy="333.7" r="0.6" fill="#c3c3c3"/>
<circle cx="813.7" cy="330.8" r="0.6" fill="#c3c3c3"/>
<circle cx="810.3" cy="331.3" r="0.6" fill="#c3c3c3"/>
<circle cx="806.3" cy="334.8" r="0.6" fill="#c3c3c3"/>
<circle cx="817.4" cy="335.7" r="0.6" fill="#c3c3c3"/>
<circle cx="808.0" cy="339.2" r="0.6" fill="#c3c3c3"/>
<circle cx="842.4" cy="336.8" r="9.4" fill="#a3a3a3" stroke="#bcbcbc" stroke-width="1" stroke-dasharray="1.5,1"/>
<circle cx="835.5" cy="331.6" r="0.7" fill="#c6c6c6"/>
<circle cx="840.4" cy="328.6" r="0.7" fill="#c6c6c6"/>
<circle cx="840.6" cy="341.9" r="0.7" fill="#c6c6c6"/>
<circle cx="845.8" cy="336.8" r="0.7" fill="#c6c6c6"/>
<circle cx="844.7" cy="336.2" r="0.7" fill="#c6c6c6"/>
<circle cx="836.1" cy="338.6" r="0.7" fill="#c6c6c6"/>
<circle cx="840.7" cy="341.0" r="0.7" fill="#c6c6c6"/>
<circle cx="849.6" cy="335.6" r="0.7" fill="#c6c6c6"/>
<circle cx="843.7" cy="341.2" r="0.7" fill="#c6c6c6"/>
<circle cx="841.0" cy="332.0" r="0.7" fill="#c6c6c6"/>
<circle cx="846.3" cy="343.5" r="0.7" fill="#c6c6c6"/>
<circle cx="847.2" cy="340.3" r="0.7" fill="#c6c6c6"/>
<circle cx="848.6" cy="340.0" r="0.7" fill="#c6c6c6"/>
<circle cx="844.9" cy="336.0" r="0.7" fill="#c6c6c6"/>
<circle cx="839.1" cy="339.1" r="0.7" fill="#c6c6c6"/>
<circle cx="835.3" cy="335.4" r="0.7" fill="#c6c6c6"/>
<circle cx="847.4" cy="340.6" r="0.7" fill="#c6c6c6"/>
<circle cx="844.7" cy="332.4" r="0.7" fill="#c6c6c6"/>
<circle cx="841.1" cy="336.0" r="0.7" fill="#c6c6c6"/>
<circle cx="844.5" cy="335.2" r="0.7" fill="#c6c6c6"/>
<circle cx="845.5" cy="344.4" r="0.7" fill="#c6c6c6"/>
<circle cx="836.8" cy="339.5" r="0.7" fill="#c6c6c6"/>
<circle cx="847.3" cy="334.8" r="0.7" fill="#c6c6c6"/>
<circle cx="842.2" cy="345.2" r="0.7" fill="#c6c6c6"/>
<circle cx="834.3" cy="337.6" r="0.7" fill="#c6c6c6"/>
<circle cx="836.4" cy="341.8" r="0.7" fill="#c6c6c6"/>
<circle cx="850.2" cy="337.1" r="0.7" fill="#c6c6c6"/>
<circle cx="835.4" cy="338.1" r="0.7" fill="#c6c6c6"/>
<circle cx="843.1" cy="340.6" r="0.7" fill="#c6c6c6"/>
<circle cx="842.6" cy="339.3" r="0.7" fill="#c6c6c6"/>
<circle cx="848.2" cy="337.2" r="0.7" fill="#c6c6c6"/>
<circle cx="840.8" cy="344.7" r="0.7" fill="#c6c6c6"/>
<circle cx="837.3" cy="340.0" r="0.7" fill="#c6c6c6"/>
<circle cx="840.5" cy="341.4" r="0.7" fill="#c6c6c6"/>
<circle cx="839.9" cy="329.0" r="0.7" fill="#c6c6c6"/>
<circle cx="838.4" cy="335.0" r="0.7" fill="#c6c6c6"/>
<circle cx="833.8" cy="335.4" r="0.7" fill="#c6c6c6"/>
<circle cx="841.0" cy="340.3" r="0.7" fill="#c6c6c6"/>
<circle cx="839.8" cy="332.7" r="0.7" fill="#c6c6c6"/>
<circle cx="837.5" cy="341.0" r="0.7" fill="#c6c6c6"/>
<circle cx="879.6" cy="337.3" r="0.75" fill="#c4c4c4"/>
<circle cx="865.9" cy="342.5" r="0.75" fill="#c4c4c4"/>
<circle cx="869.1" cy="331.3" r="0.75" fill="#c4c4c4"/>
<circle cx="864.2" cy="342.1" r="0.75" fill="#c4c4c4"/>
<circle cx="877.1" cy="339.4" r="0.75" fill="#c4c4c4"/>
<circle cx="877.3" cy="342.8" r="0.75" fill="#c4c4c4"/>
<circle cx="872.1" cy="329.7" r="0.75" fill="#c4c4c4"/>
<circle cx="877.5" cy="334.0" r="0.75" fill="#c4c4c4"/>
<circle cx="877.9" cy="332.4" r="0.75" fill="#c4c4c4"/>
<circle cx="868.8" cy="332.1" r="0.75" fill="#c4c4c4"/>
<circle cx="869.8" cy="330.8" r="0.75" fill="#c4c4c4"/>
<circle cx="867.0" cy="332.0" r="0.75" fill="#c4c4c4"/>
<circle cx="878.9" cy="342.2" r="0.75" fill="#c4c4c4"/>
<circle cx="864.4" cy="343.1" r="0.75" fill="#c4c4c4"/>
<circle cx="874.2" cy="332.1" r="0.75" fill="#c4c4c4"/>
<circle cx="866.1" cy="342.0" r="0.75" fill="#c4c4c4"/>
<circle cx="868.3" cy="330.2" r="0.75" fill="#c4c4c4"/>
<circle cx="878.9" cy="342.3" r="0.75" fill="#c4c4c4"/>
<circle cx="873.3" cy="342.1" r="0.75" fill="#c4c4c4"/>
<circle cx="874.4" cy="344.3" r="0.75" fill="#c4c4c4"/>
<circle cx="876.7" cy="343.2" r="0.75" fill="#c4c4c4"/>
<circle cx="865.5" cy="340.5" r="0.75" fill="#c4c4c4"/>
<circle cx="871.8" cy="341.4" r="0.75" fill="#c4c4c4"/>
<circle cx="870.0" cy="344.1" r="0.75" fill="#c4c4c4"/>
<circle cx="899.1" cy="332.1" r="0.7" fill="#c4c4c4"/>
<circle cx="892.7" cy="329.6" r="0.7" fill="#c4c4c4"/>
<circle cx="897.9" cy="328.0" r="0.7" fill="#c4c4c4"/>
<circle cx="897.3" cy="329.7" r="0.7" fill="#c4c4c4"/>
<circle cx="897.8" cy="336.8" r="0.7" fill="#c4c4c4"/>
<circle cx="754.0" cy="452.7" r="9.4" fill="none" stroke="#a6a6a6" stroke-width="0.9"/>
<circle cx="754.7" cy="459.2" r="0.6" fill="#a8a8a8"/>
<circle cx="753.4" cy="453.8" r="0.6" fill="#a8a8a8"/>
<circle cx="757.0" cy="458.8" r="0.6" fill="#a8a8a8"/>
<circle cx="751.7" cy="451.2" r="0.6" fill="#a8a8a8"/>
<circle cx="756.5" cy="455.2" r="0.6" fill="#a8a8a8"/>
<circle cx="745.5" cy="454.7" r="0.6" fill="#a8a8a8"/>
<circle cx="782.4" cy="452.7" r="9.4" fill="none" stroke="#a6a6a6" stroke-width="0.9"/>
<circle cx="785.7" cy="460.5" r="0.6" fill="#a8a8a8"/>
<circle cx="782.6" cy="452.4" r="0.6" fill="#a8a8a8"/>
<circle cx="786.3" cy="455.0" r="0.6" fill="#a8a8a8"/>
<circle cx="779.5" cy="459.2" r="0.6" fill="#a8a8a8"/>
<circle cx="780.0" cy="452.2" r="0.6" fill="#a8a8a8"/>
<circle cx="782.9" cy="457.6" r="0.6" fill="#a8a8a8"/>
<circle cx="811.3" cy="452.7" r="9.4" fill="none" stroke="#a6a6a6" stroke-width="0.9"/>
<circle cx="806.1" cy="451.5" r="0.6" fill="#a8a8a8"/>
<circle cx="809.9" cy="453.7" r="0.6" fill="#a8a8a8"/>
<circle cx="817.2" cy="449.0" r="0.6" fill="#a8a8a8"/>
<circle cx="817.2" cy="451.0" r="0.6" fill="#a8a8a8"/>
<circle cx="811.4" cy="448.6" r="0.6" fill="#a8a8a8"/>
<circle cx="811.4" cy="461.2" r="0.6" fill="#a8a8a8"/>
<circle cx="840.4" cy="452.7" r="9.4" fill="none" stroke="#a6a6a6" stroke-width="0.9"/>
<circle cx="843.2" cy="458.0" r="0.6" fill="#a8a8a8"/>
<circle cx="837.4" cy="449.4" r="0.6" fill="#a8a8a8"/>
<circle cx="836.8" cy="454.3" r="0.6" fill="#a8a8a8"/>
<circle cx="842.8" cy="457.8" r="0.6" fill="#a8a8a8"/>
<circle cx="847.3" cy="453.5" r="0.6" fill="#a8a8a8"/>
<circle cx="832.3" cy="449.1" r="0.6" fill="#a8a8a8"/>
<circle cx="876.2" cy="454.8" r="0.6" fill="#adadad"/>
<circle cx="871.2" cy="458.2" r="0.6" fill="#adadad"/>
<circle cx="876.0" cy="454.8" r="0.6" fill="#adadad"/>
<circle cx="871.6" cy="447.2" r="0.6" fill="#adadad"/>
<circle cx="873.2" cy="445.1" r="0.6" fill="#adadad"/>
<circle cx="873.4" cy="460.6" r="0.6" fill="#adadad"/>
<circle cx="874.3" cy="458.1" r="0.6" fill="#adadad"/>
<circle cx="869.4" cy="448.1" r="0.6" fill="#adadad"/>
<circle cx="870.9" cy="460.9" r="0.6" fill="#adadad"/>
<circle cx="859.7" cy="454.0" r="0.6" fill="#adadad"/>
<circle cx="874.1" cy="454.1" r="0.6" fill="#adadad"/>
<circle cx="876.2" cy="451.7" r="0.6" fill="#adadad"/>
<circle cx="859.0" cy="450.6" r="0.6" fill="#adadad"/>
<circle cx="869.9" cy="461.0" r="0.6" fill="#adadad"/>
<circle cx="754.0" cy="481.3" r="9.8" fill="url(#sp1)"/>
<circle cx="782.4" cy="481.3" r="9.8" fill="url(#sp2)"/>
<circle cx="791.1" cy="480.9" r="0.7" fill="#c8c8c8"/>
<circle cx="780.8" cy="474.1" r="0.7" fill="#c8c8c8"/>
<circle cx="785.0" cy="476.1" r="0.7" fill="#c8c8c8"/>
<circle cx="786.3" cy="476.7" r="0.7" fill="#c8c8c8"/>
<circle cx="786.6" cy="475.7" r="0.7" fill="#c8c8c8"/>
<circle cx="786.2" cy="487.7" r="0.7" fill="#c8c8c8"/>
<circle cx="786.5" cy="473.8" r="0.7" fill="#c8c8c8"/>
<circle cx="784.7" cy="485.1" r="0.7" fill="#c8c8c8"/>
<circle cx="781.7" cy="489.1" r="0.7" fill="#c8c8c8"/>
<circle cx="779.0" cy="485.4" r="0.7" fill="#c8c8c8"/>
<circle cx="776.4" cy="487.8" r="0.7" fill="#c8c8c8"/>
<circle cx="782.2" cy="473.4" r="0.7" fill="#c8c8c8"/>
<circle cx="780.0" cy="482.6" r="0.7" fill="#c8c8c8"/>
<circle cx="781.3" cy="484.5" r="0.7" fill="#c8c8c8"/>
<circle cx="776.0" cy="486.7" r="0.7" fill="#c8c8c8"/>
<circle cx="779.9" cy="483.9" r="0.7" fill="#c8c8c8"/>
<circle cx="784.7" cy="479.8" r="0.7" fill="#c8c8c8"/>
<circle cx="780.3" cy="486.5" r="0.7" fill="#c8c8c8"/>
<circle cx="783.6" cy="477.6" r="0.7" fill="#c8c8c8"/>
<circle cx="786.1" cy="487.2" r="0.7" fill="#c8c8c8"/>
<circle cx="779.4" cy="483.2" r="0.7" fill="#c8c8c8"/>
<circle cx="784.2" cy="477.9" r="0.7" fill="#c8c8c8"/>
<circle cx="781.1" cy="488.3" r="0.7" fill="#c8c8c8"/>
<circle cx="780.2" cy="484.6" r="0.7" fill="#c8c8c8"/>
<circle cx="784.2" cy="488.4" r="0.7" fill="#c8c8c8"/>
<circle cx="811.3" cy="481.3" r="9.5" fill="#b3b3b3" stroke="#c4c4c4" stroke-width="1.2"/>
<circle cx="816.7" cy="477.5" r="0.6" fill="#c3c3c3"/>
<circle cx="809.9" cy="482.8" r="0.6" fill="#c3c3c3"/>
<circle cx="816.9" cy="488.1" r="0.6" fill="#c3c3c3"/>
<circle cx="816.8" cy="487.8" r="0.6" fill="#c3c3c3"/>
<circle cx="812.6" cy="477.3" r="0.6" fill="#c3c3c3"/>
<circle cx="817.5" cy="486.7" r="0.6" fill="#c3c3c3"/>
<circle cx="814.5" cy="488.6" r="0.6" fill="#c3c3c3"/>
<circle cx="808.6" cy="474.0" r="0.6" fill="#c3c3c3"/>
<circle cx="812.2" cy="486.5" r="0.6" fill="#c3c3c3"/>
<circle cx="806.0" cy="485.7" r="0.6" fill="#c3c3c3"/>
<circle cx="813.2" cy="484.4" r="0.6" fill="#c3c3c3"/>
<circle cx="810.7" cy="476.1" r="0.6" fill="#c3c3c3"/>
<circle cx="807.0" cy="485.7" r="0.6" fill="#c3c3c3"/>
<circle cx="816.4" cy="480.6" r="0.6" fill="#c3c3c3"/>
<circle cx="816.1" cy="476.6" r="0.6" fill="#c3c3c3"/>
<circle cx="812.7" cy="488.3" r="0.6" fill="#c3c3c3"/>
<circle cx="818.1" cy="481.7" r="0.6" fill="#c3c3c3"/>
<circle cx="810.9" cy="482.9" r="0.6" fill="#c3c3c3"/>
<circle cx="805.8" cy="475.9" r="0.6" fill="#c3c3c3"/>
<circle cx="805.7" cy="484.8" r="0.6" fill="#c3c3c3"/>
<circle cx="808.9" cy="482.4" r="0.6" fill="#c3c3c3"/>
<circle cx="809.6" cy="481.6" r="0.6" fill="#c3c3c3"/>
<circle cx="804.4" cy="483.6" r="0.6" fill="#c3c3c3"/>
<circle cx="816.4" cy="475.2" r="0.6" fill="#c3c3c3"/>
<circle cx="813.0" cy="478.6" r="0.6" fill="#c3c3c3"/>
<circle cx="811.6" cy="472.9" r="0.6" fill="#c3c3c3"/>
<circle cx="817.7" cy="481.1" r="0.6" fill="#c3c3c3"/>
<circle cx="812.5" cy="477.1" r="0.6" fill="#c3c3c3"/>
<circle cx="816.2" cy="480.0" r="0.6" fill="#c3c3c3"/>
<circle cx="806.0" cy="475.7" r="0.6" fill="#c3c3c3"/>
<circle cx="812.3" cy="487.8" r="0.6" fill="#c3c3c3"/>
<circle cx="810.6" cy="489.2" r="0.6" fill="#c3c3c3"/>
<circle cx="813.0" cy="479.5" r="0.6" fill="#c3c3c3"/>
<circle cx="807.0" cy="482.4" r="0.6" fill="#c3c3c3"/>
<circle cx="813.8" cy="489.3" r="0.6" fill="#c3c3c3"/>
<circle cx="814.3" cy="479.4" r="0.6" fill="#c3c3c3"/>
<circle cx="810.4" cy="475.3" r="0.6" fill="#c3c3c3"/>
<circle cx="807.0" cy="478.7" r="0.6" fill="#c3c3c3"/>
<circle cx="816.3" cy="485.0" r="0.6" fill="#c3c3c3"/>
<circle cx="814.4" cy="477.8" r="0.6" fill="#c3c3c3"/>
<circle cx="812.9" cy="485.8" r="0.6" fill="#c3c3c3"/>
<circle cx="804.4" cy="478.2" r="0.6" fill="#c3c3c3"/>
<circle cx="807.0" cy="474.7" r="0.6" fill="#c3c3c3"/>
<circle cx="811.0" cy="475.5" r="0.6" fill="#c3c3c3"/>
<circle cx="806.7" cy="475.0" r="0.6" fill="#c3c3c3"/>
<circle cx="815.1" cy="475.9" r="0.6" fill="#c3c3c3"/>
<circle cx="805.0" cy="480.4" r="0.6" fill="#c3c3c3"/>
<circle cx="817.3" cy="483.6" r="0.6" fill="#c3c3c3"/>
<circle cx="810.5" cy="478.5" r="0.6" fill="#c3c3c3"/>
<circle cx="817.0" cy="480.9" r="0.6" fill="#c3c3c3"/>
<circle cx="813.6" cy="475.0" r="0.6" fill="#c3c3c3"/>
<circle cx="815.1" cy="482.2" r="0.6" fill="#c3c3c3"/>
<circle cx="807.2" cy="479.7" r="0.6" fill="#c3c3c3"/>
<circle cx="805.2" cy="477.3" r="0.6" fill="#c3c3c3"/>
<circle cx="817.3" cy="478.4" r="0.6" fill="#c3c3c3"/>
<circle cx="805.5" cy="481.1" r="0.6" fill="#c3c3c3"/>
<circle cx="808.1" cy="488.4" r="0.6" fill="#c3c3c3"/>
<circle cx="814.3" cy="476.2" r="0.6" fill="#c3c3c3"/>
<circle cx="810.9" cy="477.5" r="0.6" fill="#c3c3c3"/>
<circle cx="807.0" cy="476.0" r="0.6" fill="#c3c3c3"/>
<circle cx="804.2" cy="477.6" r="0.6" fill="#c3c3c3"/>
<circle cx="815.3" cy="477.7" r="0.6" fill="#c3c3c3"/>
<circle cx="816.7" cy="478.5" r="0.6" fill="#c3c3c3"/>
<circle cx="817.1" cy="481.8" r="0.6" fill="#c3c3c3"/>
<circle cx="805.8" cy="480.2" r="0.6" fill="#c3c3c3"/>
<circle cx="818.6" cy="476.3" r="0.6" fill="#c3c3c3"/>
<circle cx="812.6" cy="474.9" r="0.6" fill="#c3c3c3"/>
<circle cx="805.7" cy="486.1" r="0.6" fill="#c3c3c3"/>
<circle cx="815.0" cy="476.0" r="0.6" fill="#c3c3c3"/>
<circle cx="813.2" cy="481.2" r="0.6" fill="#c3c3c3"/>
<circle cx="807.3" cy="476.1" r="0.6" fill="#c3c3c3"/>
<circle cx="813.3" cy="485.0" r="0.6" fill="#c3c3c3"/>
<circle cx="816.8" cy="482.8" r="0.6" fill="#c3c3c3"/>
<circle cx="815.4" cy="479.7" r="0.6" fill="#c3c3c3"/>
<circle cx="815.2" cy="473.5" r="0.6" fill="#c3c3c3"/>
<circle cx="816.8" cy="478.4" r="0.6" fill="#c3c3c3"/>
<circle cx="817.3" cy="487.7" r="0.6" fill="#c3c3c3"/>
<circle cx="811.2" cy="472.8" r="0.6" fill="#c3c3c3"/>
<circle cx="818.5" cy="480.9" r="0.6" fill="#c3c3c3"/>
<circle cx="817.8" cy="477.2" r="0.6" fill="#c3c3c3"/>
<circle cx="805.8" cy="487.1" r="0.6" fill="#c3c3c3"/>
<circle cx="809.0" cy="475.4" r="0.6" fill="#c3c3c3"/>
<circle cx="809.0" cy="483.0" r="0.6" fill="#c3c3c3"/>
<circle cx="802.6" cy="481.6" r="0.6" fill="#c3c3c3"/>
<circle cx="810.3" cy="481.6" r="0.6" fill="#c3c3c3"/>
<circle cx="804.6" cy="485.1" r="0.6" fill="#c3c3c3"/>
<circle cx="816.9" cy="487.7" r="0.6" fill="#c3c3c3"/>
<circle cx="808.1" cy="485.0" r="0.6" fill="#c3c3c3"/>
<circle cx="809.2" cy="485.7" r="0.6" fill="#c3c3c3"/>
<circle cx="819.3" cy="481.2" r="0.6" fill="#c3c3c3"/>
<circle cx="840.4" cy="481.3" r="9.4" fill="#a3a3a3" stroke="#bcbcbc" stroke-width="1" stroke-dasharray="1.5,1"/>
<circle cx="840.6" cy="481.8" r="0.7" fill="#c6c6c6"/>
<circle cx="841.1" cy="472.9" r="0.7" fill="#c6c6c6"/>
<circle cx="836.0" cy="486.9" r="0.7" fill="#c6c6c6"/>
<circle cx="843.9" cy="475.9" r="0.7" fill="#c6c6c6"/>
<circle cx="831.9" cy="483.0" r="0.7" fill="#c6c6c6"/>
<circle cx="841.7" cy="481.7" r="0.7" fill="#c6c6c6"/>
<circle cx="844.0" cy="474.3" r="0.7" fill="#c6c6c6"/>
<circle cx="846.9" cy="485.1" r="0.7" fill="#c6c6c6"/>
<circle cx="840.3" cy="481.3" r="0.7" fill="#c6c6c6"/>
<circle cx="836.5" cy="474.6" r="0.7" fill="#c6c6c6"/>
<circle cx="838.7" cy="474.9" r="0.7" fill="#c6c6c6"/>
<circle cx="842.0" cy="487.7" r="0.7" fill="#c6c6c6"/>
<circle cx="834.2" cy="482.6" r="0.7" fill="#c6c6c6"/>
<circle cx="844.7" cy="475.4" r="0.7" fill="#c6c6c6"/>
<circle cx="838.4" cy="479.9" r="0.7" fill="#c6c6c6"/>
<circle cx="846.4" cy="481.8" r="0.7" fill="#c6c6c6"/>
<circle cx="838.6" cy="489.1" r="0.7" fill="#c6c6c6"/>
<circle cx="845.3" cy="478.5" r="0.7" fill="#c6c6c6"/>
<circle cx="835.8" cy="478.4" r="0.7" fill="#c6c6c6"/>
<circle cx="839.3" cy="489.8" r="0.7" fill="#c6c6c6"/>
<circle cx="845.9" cy="487.4" r="0.7" fill="#c6c6c6"/>
<circle cx="832.5" cy="481.6" r="0.7" fill="#c6c6c6"/>
<circle cx="836.0" cy="479.9" r="0.7" fill="#c6c6c6"/>
<circle cx="842.7" cy="478.9" r="0.7" fill="#c6c6c6"/>
<circle cx="840.9" cy="473.7" r="0.7" fill="#c6c6c6"/>
<circle cx="839.2" cy="481.4" r="0.7" fill="#c6c6c6"/>
<circle cx="848.1" cy="483.6" r="0.7" fill="#c6c6c6"/>
<circle cx="845.8" cy="488.1" r="0.7" fill="#c6c6c6"/>
<circle cx="842.9" cy="477.2" r="0.7" fill="#c6c6c6"/>
<circle cx="843.5" cy="477.3" r="0.7" fill="#c6c6c6"/>
<circle cx="841.1" cy="488.8" r="0.7" fill="#c6c6c6"/>
<circle cx="842.5" cy="476.9" r="0.7" fill="#c6c6c6"/>
<circle cx="840.8" cy="480.1" r="0.7" fill="#c6c6c6"/>
<circle cx="848.3" cy="477.6" r="0.7" fill="#c6c6c6"/>
<circle cx="837.0" cy="483.9" r="0.7" fill="#c6c6c6"/>
<circle cx="833.7" cy="483.0" r="0.7" fill="#c6c6c6"/>
<circle cx="848.4" cy="481.5" r="0.7" fill="#c6c6c6"/>
<circle cx="836.3" cy="480.7" r="0.7" fill="#c6c6c6"/>
<circle cx="841.0" cy="475.1" r="0.7" fill="#c6c6c6"/>
<circle cx="836.8" cy="479.7" r="0.7" fill="#c6c6c6"/>
<circle cx="864.2" cy="476.4" r="0.75" fill="#c4c4c4"/>
<circle cx="860.4" cy="482.2" r="0.75" fill="#c4c4c4"/>
<circle cx="874.7" cy="483.4" r="0.75" fill="#c4c4c4"/>
<circle cx="862.5" cy="485.3" r="0.75" fill="#c4c4c4"/>
<circle cx="864.6" cy="476.4" r="0.75" fill="#c4c4c4"/>
<circle cx="862.9" cy="481.5" r="0.75" fill="#c4c4c4"/>
<circle cx="875.1" cy="476.3" r="0.75" fill="#c4c4c4"/>
<circle cx="864.3" cy="486.5" r="0.75" fill="#c4c4c4"/>
<circle cx="875.3" cy="480.2" r="0.75" fill="#c4c4c4"/>
<circle cx="859.9" cy="479.2" r="0.75" fill="#c4c4c4"/>
<circle cx="867.1" cy="485.8" r="0.75" fill="#c4c4c4"/>
<circle cx="860.8" cy="476.1" r="0.75" fill="#c4c4c4"/>
<circle cx="861.6" cy="478.2" r="0.75" fill="#c4c4c4"/>
<circle cx="865.4" cy="484.6" r="0.75" fill="#c4c4c4"/>
<circle cx="870.4" cy="487.9" r="0.75" fill="#c4c4c4"/>
<circle cx="874.3" cy="481.6" r="0.75" fill="#c4c4c4"/>
<circle cx="872.7" cy="485.9" r="0.75" fill="#c4c4c4"/>
<circle cx="873.1" cy="480.8" r="0.75" fill="#c4c4c4"/>
<circle cx="873.6" cy="485.3" r="0.75" fill="#c4c4c4"/>
<circle cx="873.2" cy="482.9" r="0.75" fill="#c4c4c4"/>
<circle cx="868.2" cy="490.1" r="0.75" fill="#c4c4c4"/>
<circle cx="873.6" cy="488.4" r="0.75" fill="#c4c4c4"/>
<circle cx="872.4" cy="477.4" r="0.75" fill="#c4c4c4"/>
<circle cx="873.7" cy="487.9" r="0.75" fill="#c4c4c4"/>
<circle cx="754.0" cy="510.2" r="9.8" fill="url(#sp1)"/>
<circle cx="782.4" cy="510.2" r="9.8" fill="url(#sp2)"/>
<circle cx="782.4" cy="509.2" r="0.7" fill="#c8c8c8"/>
<circle cx="776.7" cy="506.7" r="0.7" fill="#c8c8c8"/>
<circle cx="776.0" cy="511.6" r="0.7" fill="#c8c8c8"/>
<circle cx="783.9" cy="502.8" r="0.7" fill="#c8c8c8"/>
<circle cx="790.0" cy="507.0" r="0.7" fill="#c8c8c8"/>
<circle cx="788.6" cy="516.3" r="0.7" fill="#c8c8c8"/>
<circle cx="781.1" cy="517.6" r="0.7" fill="#c8c8c8"/>
<circle cx="783.6" cy="510.2" r="0.7" fill="#c8c8c8"/>
<circle cx="783.1" cy="519.2" r="0.7" fill="#c8c8c8"/>
<circle cx="782.7" cy="510.5" r="0.7" fill="#c8c8c8"/>
<circle cx="785.7" cy="508.2" r="0.7" fill="#c8c8c8"/>
<circle cx="779.8" cy="511.9" r="0.7" fill="#c8c8c8"/>
<circle cx="779.7" cy="518.3" r="0.7" fill="#c8c8c8"/>
<circle cx="785.6" cy="510.7" r="0.7" fill="#c8c8c8"/>
<circle cx="775.2" cy="507.9" r="0.7" fill="#c8c8c8"/>
<circle cx="780.6" cy="511.3" r="0.7" fill="#c8c8c8"/>
<circle cx="783.7" cy="517.0" r="0.7" fill="#c8c8c8"/>
<circle cx="790.8" cy="510.0" r="0.7" fill="#c8c8c8"/>
<circle cx="781.3" cy="512.4" r="0.7" fill="#c8c8c8"/>
<circle cx="782.9" cy="515.9" r="0.7" fill="#c8c8c8"/>
<circle cx="776.5" cy="506.9" r="0.7" fill="#c8c8c8"/>
<circle cx="782.6" cy="503.2" r="0.7" fill="#c8c8c8"/>
<circle cx="789.5" cy="513.6" r="0.7" fill="#c8c8c8"/>
<circle cx="789.4" cy="508.8" r="0.7" fill="#c8c8c8"/>
<circle cx="776.2" cy="506.4" r="0.7" fill="#c8c8c8"/>
<circle cx="811.3" cy="510.2" r="9.5" fill="#b3b3b3" stroke="#c4c4c4" stroke-width="1.2"/>
<circle cx="811.5" cy="510.3" r="0.6" fill="#c3c3c3"/>
<circle cx="805.8" cy="504.6" r="0.6" fill="#c3c3c3"/>
<circle cx="813.6" cy="512.0" r="0.6" fill="#c3c3c3"/>
<circle cx="813.7" cy="502.1" r="0.6" fill="#c3c3c3"/>
<circle cx="809.7" cy="515.3" r="0.6" fill="#c3c3c3"/>
<circle cx="807.9" cy="513.6" r="0.6" fill="#c3c3c3"/>
<circle cx="817.3" cy="511.7" r="0.6" fill="#c3c3c3"/>
<circle cx="814.3" cy="504.9" r="0.6" fill="#c3c3c3"/>
<circle cx="811.3" cy="511.1" r="0.6" fill="#c3c3c3"/>
<circle cx="807.2" cy="512.8" r="0.6" fill="#c3c3c3"/>
<circle cx="811.9" cy="518.9" r="0.6" fill="#c3c3c3"/>
<circle cx="812.6" cy="508.6" r="0.6" fill="#c3c3c3"/>
<circle cx="815.9" cy="503.3" r="0.6" fill="#c3c3c3"/>
<circle cx="811.7" cy="515.9" r="0.6" fill="#c3c3c3"/>
<circle cx="813.3" cy="515.6" r="0.6" fill="#c3c3c3"/>
<circle cx="816.1" cy="507.1" r="0.6" fill="#c3c3c3"/>
<circle cx="815.1" cy="507.6" r="0.6" fill="#c3c3c3"/>
<circle cx="805.5" cy="506.1" r="0.6" fill="#c3c3c3"/>
<circle cx="812.7" cy="507.5" r="0.6" fill="#c3c3c3"/>
<circle cx="810.4" cy="508.2" r="0.6" fill="#c3c3c3"/>
<circle cx="812.8" cy="518.3" r="0.6" fill="#c3c3c3"/>
<circle cx="810.2" cy="512.3" r="0.6" fill="#c3c3c3"/>
<circle cx="808.0" cy="517.2" r="0.6" fill="#c3c3c3"/>
<circle cx="816.9" cy="506.7" r="0.6" fill="#c3c3c3"/>
<circle cx="813.1" cy="518.3" r="0.6" fill="#c3c3c3"/>
<circle cx="811.2" cy="518.1" r="0.6" fill="#c3c3c3"/>
<circle cx="806.8" cy="508.3" r="0.6" fill="#c3c3c3"/>
<circle cx="815.1" cy="505.3" r="0.6" fill="#c3c3c3"/>
<circle cx="807.9" cy="516.8" r="0.6" fill="#c3c3c3"/>
<circle cx="811.0" cy="515.4" r="0.6" fill="#c3c3c3"/>
<circle cx="806.8" cy="504.5" r="0.6" fill="#c3c3c3"/>
<circle cx="808.8" cy="504.7" r="0.6" fill="#c3c3c3"/>
<circle cx="812.4" cy="503.4" r="0.6" fill="#c3c3c3"/>
<circle cx="811.9" cy="508.2" r="0.6" fill="#c3c3c3"/>
<circle cx="809.6" cy="502.6" r="0.6" fill="#c3c3c3"/>
<circle cx="804.7" cy="515.9" r="0.6" fill="#c3c3c3"/>
<circle cx="808.7" cy="505.7" r="0.6" fill="#c3c3c3"/>
<circle cx="805.9" cy="506.4" r="0.6" fill="#c3c3c3"/>
<circle cx="814.2" cy="507.4" r="0.6" fill="#c3c3c3"/>
<circle cx="805.2" cy="513.8" r="0.6" fill="#c3c3c3"/>
<circle cx="804.1" cy="506.1" r="0.6" fill="#c3c3c3"/>
<circle cx="810.3" cy="516.1" r="0.6" fill="#c3c3c3"/>
<circle cx="816.7" cy="504.2" r="0.6" fill="#c3c3c3"/>
<circle cx="808.7" cy="514.1" r="0.6" fill="#c3c3c3"/>
<circle cx="809.1" cy="518.3" r="0.6" fill="#c3c3c3"/>
<circle cx="811.4" cy="505.4" r="0.6" fill="#c3c3c3"/>
<circle cx="810.5" cy="503.7" r="0.6" fill="#c3c3c3"/>
<circle cx="814.9" cy="506.0" r="0.6" fill="#c3c3c3"/>
<circle cx="818.3" cy="511.7" r="0.6" fill="#c3c3c3"/>
<circle cx="809.0" cy="505.7" r="0.6" fill="#c3c3c3"/>
<circle cx="813.2" cy="505.1" r="0.6" fill="#c3c3c3"/>
<circle cx="811.5" cy="510.9" r="0.6" fill="#c3c3c3"/>
<circle cx="807.3" cy="515.0" r="0.6" fill="#c3c3c3"/>
<circle cx="809.3" cy="513.0" r="0.6" fill="#c3c3c3"/>
<circle cx="812.5" cy="506.9" r="0.6" fill="#c3c3c3"/>
<circle cx="809.4" cy="502.9" r="0.6" fill="#c3c3c3"/>
<circle cx="805.6" cy="516.4" r="0.6" fill="#c3c3c3"/>
<circle cx="808.2" cy="513.1" r="0.6" fill="#c3c3c3"/>
<circle cx="804.4" cy="511.3" r="0.6" fill="#c3c3c3"/>
<circle cx="808.9" cy="510.2" r="0.6" fill="#c3c3c3"/>
<circle cx="807.7" cy="502.6" r="0.6" fill="#c3c3c3"/>
<circle cx="808.0" cy="505.4" r="0.6" fill="#c3c3c3"/>
<circle cx="804.7" cy="514.0" r="0.6" fill="#c3c3c3"/>
<circle cx="807.5" cy="508.5" r="0.6" fill="#c3c3c3"/>
<circle cx="818.5" cy="515.0" r="0.6" fill="#c3c3c3"/>
<circle cx="804.8" cy="506.3" r="0.6" fill="#c3c3c3"/>
<circle cx="814.2" cy="507.6" r="0.6" fill="#c3c3c3"/>
<circle cx="809.8" cy="513.0" r="0.6" fill="#c3c3c3"/>
<circle cx="814.8" cy="505.8" r="0.6" fill="#c3c3c3"/>
<circle cx="817.4" cy="507.6" r="0.6" fill="#c3c3c3"/>
<circle cx="813.6" cy="504.6" r="0.6" fill="#c3c3c3"/>
<circle cx="815.4" cy="513.9" r="0.6" fill="#c3c3c3"/>
<circle cx="805.4" cy="504.9" r="0.6" fill="#c3c3c3"/>
<circle cx="807.8" cy="508.1" r="0.6" fill="#c3c3c3"/>
<circle cx="803.2" cy="506.9" r="0.6" fill="#c3c3c3"/>
<circle cx="813.7" cy="504.6" r="0.6" fill="#c3c3c3"/>
<circle cx="817.3" cy="511.4" r="0.6" fill="#c3c3c3"/>
<circle cx="815.1" cy="505.9" r="0.6" fill="#c3c3c3"/>
<circle cx="810.2" cy="513.4" r="0.6" fill="#c3c3c3"/>
<circle cx="817.2" cy="515.1" r="0.6" fill="#c3c3c3"/>
<circle cx="817.5" cy="512.1" r="0.6" fill="#c3c3c3"/>
<circle cx="804.5" cy="515.3" r="0.6" fill="#c3c3c3"/>
<circle cx="815.7" cy="502.9" r="0.6" fill="#c3c3c3"/>
<circle cx="814.7" cy="508.3" r="0.6" fill="#c3c3c3"/>
<circle cx="815.7" cy="516.0" r="0.6" fill="#c3c3c3"/>
<circle cx="807.4" cy="503.0" r="0.6" fill="#c3c3c3"/>
<circle cx="819.2" cy="508.9" r="0.6" fill="#c3c3c3"/>
<circle cx="818.9" cy="513.6" r="0.6" fill="#c3c3c3"/>
<circle cx="815.5" cy="516.0" r="0.6" fill="#c3c3c3"/>
<circle cx="813.6" cy="509.4" r="0.6" fill="#c3c3c3"/>
<circle cx="840.4" cy="510.2" r="9.4" fill="#a3a3a3" stroke="#bcbcbc" stroke-width="1" stroke-dasharray="1.5,1"/>
<circle cx="832.6" cy="513.7" r="0.7" fill="#c6c6c6"/>
<circle cx="839.1" cy="510.4" r="0.7" fill="#c6c6c6"/>
<circle cx="844.0" cy="515.6" r="0.7" fill="#c6c6c6"/>
<circle cx="836.2" cy="511.0" r="0.7" fill="#c6c6c6"/>
<circle cx="848.7" cy="512.6" r="0.7" fill="#c6c6c6"/>
<circle cx="841.2" cy="505.8" r="0.7" fill="#c6c6c6"/>
<circle cx="832.6" cy="507.7" r="0.7" fill="#c6c6c6"/>
<circle cx="838.8" cy="504.9" r="0.7" fill="#c6c6c6"/>
<circle cx="837.1" cy="503.8" r="0.7" fill="#c6c6c6"/>
<circle cx="844.0" cy="513.2" r="0.7" fill="#c6c6c6"/>
<circle cx="835.8" cy="505.7" r="0.7" fill="#c6c6c6"/>
<circle cx="840.7" cy="509.2" r="0.7" fill="#c6c6c6"/>
<circle cx="848.1" cy="507.6" r="0.7" fill="#c6c6c6"/>
<circle cx="836.9" cy="517.0" r="0.7" fill="#c6c6c6"/>
<circle cx="834.1" cy="511.3" r="0.7" fill="#c6c6c6"/>
<circle cx="837.5" cy="515.8" r="0.7" fill="#c6c6c6"/>
<circle cx="841.2" cy="514.8" r="0.7" fill="#c6c6c6"/>
<circle cx="834.6" cy="513.1" r="0.7" fill="#c6c6c6"/>
<circle cx="842.1" cy="509.5" r="0.7" fill="#c6c6c6"/>
<circle cx="845.1" cy="516.0" r="0.7" fill="#c6c6c6"/>
<circle cx="833.6" cy="506.5" r="0.7" fill="#c6c6c6"/>
<circle cx="837.9" cy="505.0" r="0.7" fill="#c6c6c6"/>
<circle cx="832.7" cy="506.3" r="0.7" fill="#c6c6c6"/>
<circle cx="835.1" cy="513.7" r="0.7" fill="#c6c6c6"/>
<circle cx="839.5" cy="503.4" r="0.7" fill="#c6c6c6"/>
<circle cx="837.3" cy="509.6" r="0.7" fill="#c6c6c6"/>
<circle cx="838.0" cy="504.4" r="0.7" fill="#c6c6c6"/>
<circle cx="833.1" cy="514.0" r="0.7" fill="#c6c6c6"/>
<circle cx="848.9" cy="511.3" r="0.7" fill="#c6c6c6"/>
<circle cx="833.5" cy="510.0" r="0.7" fill="#c6c6c6"/>
<circle cx="839.2" cy="504.7" r="0.7" fill="#c6c6c6"/>
<circle cx="841.2" cy="501.5" r="0.7" fill="#c6c6c6"/>
<circle cx="847.8" cy="512.7" r="0.7" fill="#c6c6c6"/>
<circle cx="842.6" cy="517.9" r="0.7" fill="#c6c6c6"/>
<circle cx="843.1" cy="505.8" r="0.7" fill="#c6c6c6"/>
<circle cx="835.9" cy="503.8" r="0.7" fill="#c6c6c6"/>
<circle cx="846.4" cy="506.6" r="0.7" fill="#c6c6c6"/>
<circle cx="834.9" cy="512.6" r="0.7" fill="#c6c6c6"/>
<circle cx="834.6" cy="515.2" r="0.7" fill="#c6c6c6"/>
<circle cx="846.2" cy="514.5" r="0.7" fill="#c6c6c6"/>
<circle cx="864.9" cy="504.2" r="0.75" fill="#c4c4c4"/>
<circle cx="874.4" cy="506.8" r="0.75" fill="#c4c4c4"/>
<circle cx="865.7" cy="516.5" r="0.75" fill="#c4c4c4"/>
<circle cx="874.3" cy="514.1" r="0.75" fill="#c4c4c4"/>
<circle cx="861.7" cy="506.4" r="0.75" fill="#c4c4c4"/>
<circle cx="869.7" cy="502.2" r="0.75" fill="#c4c4c4"/>
<circle cx="871.8" cy="503.8" r="0.75" fill="#c4c4c4"/>
<circle cx="867.1" cy="519.1" r="0.75" fill="#c4c4c4"/>
<circle cx="867.1" cy="504.3" r="0.75" fill="#c4c4c4"/>
<circle cx="874.7" cy="517.0" r="0.75" fill="#c4c4c4"/>
<circle cx="873.7" cy="508.8" r="0.75" fill="#c4c4c4"/>
<circle cx="864.1" cy="513.3" r="0.75" fill="#c4c4c4"/>
<circle cx="871.4" cy="516.4" r="0.75" fill="#c4c4c4"/>
<circle cx="877.0" cy="512.5" r="0.75" fill="#c4c4c4"/>
<circle cx="876.8" cy="509.8" r="0.75" fill="#c4c4c4"/>
<circle cx="871.0" cy="506.4" r="0.75" fill="#c4c4c4"/>
<circle cx="865.2" cy="517.5" r="0.75" fill="#c4c4c4"/>
<circle cx="860.3" cy="513.2" r="0.75" fill="#c4c4c4"/>
<circle cx="875.6" cy="511.1" r="0.75" fill="#c4c4c4"/>
<circle cx="863.5" cy="502.5" r="0.75" fill="#c4c4c4"/>
<circle cx="868.8" cy="505.5" r="0.75" fill="#c4c4c4"/>
<circle cx="863.0" cy="511.6" r="0.75" fill="#c4c4c4"/>
<circle cx="860.8" cy="510.5" r="0.75" fill="#c4c4c4"/>
<circle cx="869.9" cy="502.2" r="0.75" fill="#c4c4c4"/>
<circle cx="897.9" cy="488.7" r="0.9" fill="#c8c8c8"/>
<circle cx="895.7" cy="502.9" r="0.9" fill="#c8c8c8"/>
<circle cx="821.5" cy="494.1" r="0.9" fill="#c8c8c8"/>
<line x1="739" y1="383" x2="905" y2="383" stroke="#111" stroke-width="1.6"/>
<polygon points="901,379 911.8,383 901,387" fill="#111"/>
<line x1="741" y1="554" x2="905" y2="554" stroke="#111" stroke-width="1.6"/>
<polygon points="901,550 911.8,554 901,558" fill="#111"/>
<text x="822.50" y="399.60" font-size="13.2" fill="#555" text-anchor="middle" font-weight="normal" >10-fold dilutions</text>
<text x="822.80" y="570.50" font-size="13.2" fill="#555" text-anchor="middle" font-weight="normal" >10-fold dilutions</text>
<text x="958.50" y="253.00" font-size="21.5" fill="#000" text-anchor="start" font-weight="bold" >d</text>
<circle cx="992.4" cy="277.8" r="9.4" fill="none" stroke="#d6d070" stroke-width="1.4"/>
<text x="1008.60" y="280.60" font-size="16" fill="#111" text-anchor="start" font-weight="normal" >pCONn-U</text>
<circle cx="1100.3" cy="277.5" r="9" fill="none" stroke="#e2641a" stroke-width="1.4"/>
<line x1="1093.9" y1="271.1" x2="1106.7" y2="283.9" stroke="#e2641a" stroke-width="1.4"/>
<line x1="1106.7" y1="271.1" x2="1093.9" y2="283.9" stroke="#e2641a" stroke-width="1.4"/>
<text x="1113.00" y="280.60" font-size="15.6" fill="#111" text-anchor="start" font-weight="normal" >pCONn-TD</text>
<line x1="990.5" y1="509.40" x2="1199" y2="509.40" stroke="#d2d2d2" stroke-width="1"/>
<line x1="990.5" y1="489.11" x2="1199" y2="489.11" stroke="#d2d2d2" stroke-width="1"/>
<line x1="990.5" y1="468.82" x2="1199" y2="468.82" stroke="#d2d2d2" stroke-width="1"/>
<line x1="990.5" y1="448.53" x2="1199" y2="448.53" stroke="#d2d2d2" stroke-width="1"/>
<line x1="990.5" y1="428.24" x2="1199" y2="428.24" stroke="#d2d2d2" stroke-width="1"/>
<line x1="990.5" y1="407.95" x2="1199" y2="407.95" stroke="#d2d2d2" stroke-width="1"/>
<line x1="990.5" y1="387.66" x2="1199" y2="387.66" stroke="#d2d2d2" stroke-width="1"/>
<line x1="990.5" y1="367.37" x2="1199" y2="367.37" stroke="#d2d2d2" stroke-width="1"/>
<line x1="990.5" y1="347.08" x2="1199" y2="347.08" stroke="#d2d2d2" stroke-width="1"/>
<line x1="990.5" y1="326.79" x2="1199" y2="326.79" stroke="#d2d2d2" stroke-width="1"/>
<line x1="990.5" y1="306.50" x2="1199" y2="306.50" stroke="#d2d2d2" stroke-width="1"/>
<line x1="998.00" y1="302.5" x2="998.00" y2="509.4" stroke="#d2d2d2" stroke-width="1"/>
<line x1="1036.60" y1="302.5" x2="1036.60" y2="509.4" stroke="#d2d2d2" stroke-width="1"/>
<line x1="1075.20" y1="302.5" x2="1075.20" y2="509.4" stroke="#d2d2d2" stroke-width="1"/>
<line x1="1113.80" y1="302.5" x2="1113.80" y2="509.4" stroke="#d2d2d2" stroke-width="1"/>
<line x1="1152.40" y1="302.5" x2="1152.40" y2="509.4" stroke="#d2d2d2" stroke-width="1"/>
<line x1="1191.00" y1="302.5" x2="1191.00" y2="509.4" stroke="#d2d2d2" stroke-width="1"/>
<line x1="990.5" y1="302.5" x2="1199" y2="302.5" stroke="#444" stroke-width="1.2"/>
<line x1="990.5" y1="302.5" x2="990.5" y2="509.4" stroke="#444" stroke-width="1.2"/>
<line x1="990.5" y1="509.4" x2="1199" y2="509.4" stroke="#444" stroke-width="1.2"/>
<line x1="1199" y1="302.5" x2="1199" y2="509.4" stroke="#777" stroke-width="1.4"/>
<line x1="998.00" y1="509.4" x2="998.00" y2="507.4" stroke="#444" stroke-width="1"/>
<line x1="998.00" y1="302.5" x2="998.00" y2="304.5" stroke="#444" stroke-width="1"/>
<text x="998.00" y="531.80" font-size="16" fill="#222" text-anchor="middle" font-weight="normal" >0</text>
<line x1="1036.60" y1="509.4" x2="1036.60" y2="507.4" stroke="#444" stroke-width="1"/>
<line x1="1036.60" y1="302.5" x2="1036.60" y2="304.5" stroke="#444" stroke-width="1"/>
<text x="1036.60" y="531.80" font-size="16" fill="#222" text-anchor="middle" font-weight="normal" >1</text>
<line x1="1075.20" y1="509.4" x2="1075.20" y2="507.4" stroke="#444" stroke-width="1"/>
<line x1="1075.20" y1="302.5" x2="1075.20" y2="304.5" stroke="#444" stroke-width="1"/>
<text x="1075.20" y="531.80" font-size="16" fill="#222" text-anchor="middle" font-weight="normal" >2</text>
<line x1="1113.80" y1="509.4" x2="1113.80" y2="507.4" stroke="#444" stroke-width="1"/>
<line x1="1113.80" y1="302.5" x2="1113.80" y2="304.5" stroke="#444" stroke-width="1"/>
<text x="1113.80" y="531.80" font-size="16" fill="#222" text-anchor="middle" font-weight="normal" >3</text>
<line x1="1152.40" y1="509.4" x2="1152.40" y2="507.4" stroke="#444" stroke-width="1"/>
<line x1="1152.40" y1="302.5" x2="1152.40" y2="304.5" stroke="#444" stroke-width="1"/>
<text x="1152.40" y="531.80" font-size="16" fill="#222" text-anchor="middle" font-weight="normal" >4</text>
<line x1="1191.00" y1="509.4" x2="1191.00" y2="507.4" stroke="#444" stroke-width="1"/>
<line x1="1191.00" y1="302.5" x2="1191.00" y2="304.5" stroke="#444" stroke-width="1"/>
<text x="1191.00" y="531.80" font-size="16" fill="#222" text-anchor="middle" font-weight="normal" >5</text>
<line x1="990.5" y1="509.40" x2="992.5" y2="509.40" stroke="#444" stroke-width="1"/>
<text x="966.60" y="513.50" font-size="16.5" fill="#222" text-anchor="middle" font-weight="normal" >0</text>
<line x1="990.5" y1="489.11" x2="992.5" y2="489.11" stroke="#444" stroke-width="1"/>
<text x="966.60" y="493.21" font-size="16.5" fill="#222" text-anchor="middle" font-weight="normal" >0.1</text>
<line x1="990.5" y1="468.82" x2="992.5" y2="468.82" stroke="#444" stroke-width="1"/>
<text x="966.60" y="472.92" font-size="16.5" fill="#222" text-anchor="middle" font-weight="normal" >0.2</text>
<line x1="990.5" y1="448.53" x2="992.5" y2="448.53" stroke="#444" stroke-width="1"/>
<text x="966.60" y="452.63" font-size="16.5" fill="#222" text-anchor="middle" font-weight="normal" >0.3</text>
<line x1="990.5" y1="428.24" x2="992.5" y2="428.24" stroke="#444" stroke-width="1"/>
<text x="966.60" y="432.34" font-size="16.5" fill="#222" text-anchor="middle" font-weight="normal" >0.4</text>
<line x1="990.5" y1="407.95" x2="992.5" y2="407.95" stroke="#444" stroke-width="1"/>
<text x="966.60" y="412.05" font-size="16.5" fill="#222" text-anchor="middle" font-weight="normal" >0.5</text>
<line x1="990.5" y1="387.66" x2="992.5" y2="387.66" stroke="#444" stroke-width="1"/>
<text x="966.60" y="391.76" font-size="16.5" fill="#222" text-anchor="middle" font-weight="normal" >0.6</text>
<line x1="990.5" y1="367.37" x2="992.5" y2="367.37" stroke="#444" stroke-width="1"/>
<text x="966.60" y="371.47" font-size="16.5" fill="#222" text-anchor="middle" font-weight="normal" >0.7</text>
<line x1="990.5" y1="347.08" x2="992.5" y2="347.08" stroke="#444" stroke-width="1"/>
<text x="966.60" y="351.18" font-size="16.5" fill="#222" text-anchor="middle" font-weight="normal" >0.8</text>
<line x1="990.5" y1="326.79" x2="992.5" y2="326.79" stroke="#444" stroke-width="1"/>
<text x="966.60" y="330.89" font-size="16.5" fill="#222" text-anchor="middle" font-weight="normal" >0.9</text>
<line x1="990.5" y1="306.50" x2="992.5" y2="306.50" stroke="#444" stroke-width="1"/>
<text x="966.60" y="310.60" font-size="16.5" fill="#222" text-anchor="middle" font-weight="normal" >1</text>
<text x="1092.30" y="556.50" font-size="16.2" fill="#222" text-anchor="middle" font-weight="normal" >Days</text>
<text transform="translate(945.1,421.35) rotate(-90)" font-size="16" fill="#222" text-anchor="middle">% Hosts</text>
<polyline points="996.10,329.63 1034.70,358.04 1073.30,383.60 1111.90,390.91 1150.50,370.62 1189.10,403.28" fill="none" stroke="#d8d06a" stroke-width="2.4" stroke-dasharray="3.4,3.4"/>
<line x1="996.10" y1="321.31" x2="996.10" y2="338.76" stroke="#d8d06a" stroke-width="2.2"/>
<line x1="992.70" y1="321.31" x2="999.50" y2="321.31" stroke="#d8d06a" stroke-width="2.2"/>
<line x1="992.70" y1="338.76" x2="999.50" y2="338.76" stroke="#d8d06a" stroke-width="2.2"/>
<rect x="992.60" y="326.13" width="7" height="7" fill="#d8d06a"/>
<line x1="1034.70" y1="345.46" x2="1034.70" y2="371.23" stroke="#d8d06a" stroke-width="2.2"/>
<line x1="1031.30" y1="345.46" x2="1038.10" y2="345.46" stroke="#d8d06a" stroke-width="2.2"/>
<line x1="1031.30" y1="371.23" x2="1038.10" y2="371.23" stroke="#d8d06a" stroke-width="2.2"/>
<rect x="1031.20" y="354.54" width="7" height="7" fill="#d8d06a"/>
<line x1="1073.30" y1="374.07" x2="1073.30" y2="392.53" stroke="#d8d06a" stroke-width="2.2"/>
<line x1="1069.90" y1="374.07" x2="1076.70" y2="374.07" stroke="#d8d06a" stroke-width="2.2"/>
<line x1="1069.90" y1="392.53" x2="1076.70" y2="392.53" stroke="#d8d06a" stroke-width="2.2"/>
<rect x="1069.80" y="380.10" width="7" height="7" fill="#d8d06a"/>
<line x1="1111.90" y1="378.33" x2="1111.90" y2="403.69" stroke="#d8d06a" stroke-width="2.2"/>
<line x1="1108.50" y1="378.33" x2="1115.30" y2="378.33" stroke="#d8d06a" stroke-width="2.2"/>
<line x1="1108.50" y1="403.69" x2="1115.30" y2="403.69" stroke="#d8d06a" stroke-width="2.2"/>
<rect x="1108.40" y="387.41" width="7" height="7" fill="#d8d06a"/>
<line x1="1150.50" y1="353.57" x2="1150.50" y2="386.85" stroke="#d8d06a" stroke-width="2.2"/>
<line x1="1147.10" y1="353.57" x2="1153.90" y2="353.57" stroke="#d8d06a" stroke-width="2.2"/>
<line x1="1147.10" y1="386.85" x2="1153.90" y2="386.85" stroke="#d8d06a" stroke-width="2.2"/>
<rect x="1147.00" y="367.12" width="7" height="7" fill="#d8d06a"/>
<line x1="1189.10" y1="393.95" x2="1189.10" y2="412.21" stroke="#d8d06a" stroke-width="2.2"/>
<line x1="1185.70" y1="393.95" x2="1192.50" y2="393.95" stroke="#d8d06a" stroke-width="2.2"/>
<line x1="1185.70" y1="412.21" x2="1192.50" y2="412.21" stroke="#d8d06a" stroke-width="2.2"/>
<rect x="1185.60" y="399.78" width="7" height="7" fill="#d8d06a"/>
<polyline points="994.10,310.56 1032.70,324.36 1071.30,331.25 1109.90,338.15 1148.50,326.99 1187.10,335.72" fill="none" stroke="#e55b00" stroke-width="2.4" stroke-dasharray="3.4,3.4"/>
<line x1="994.10" y1="306.50" x2="994.10" y2="314.62" stroke="#e55b00" stroke-width="2.2"/>
<line x1="990.70" y1="306.50" x2="997.50" y2="306.50" stroke="#e55b00" stroke-width="2.2"/>
<line x1="990.70" y1="314.62" x2="997.50" y2="314.62" stroke="#e55b00" stroke-width="2.2"/>
<rect x="990.60" y="307.06" width="7" height="7" fill="#e55b00"/>
<line x1="1032.70" y1="317.25" x2="1032.70" y2="330.65" stroke="#e55b00" stroke-width="2.2"/>
<line x1="1029.30" y1="317.25" x2="1036.10" y2="317.25" stroke="#e55b00" stroke-width="2.2"/>
<line x1="1029.30" y1="330.65" x2="1036.10" y2="330.65" stroke="#e55b00" stroke-width="2.2"/>
<rect x="1029.20" y="320.86" width="7" height="7" fill="#e55b00"/>
<line x1="1071.30" y1="313.80" x2="1071.30" y2="348.30" stroke="#e55b00" stroke-width="2.2"/>
<line x1="1067.90" y1="313.80" x2="1074.70" y2="313.80" stroke="#e55b00" stroke-width="2.2"/>
<line x1="1067.90" y1="348.30" x2="1074.70" y2="348.30" stroke="#e55b00" stroke-width="2.2"/>
<rect x="1067.80" y="327.75" width="7" height="7" fill="#e55b00"/>
<line x1="1109.90" y1="325.98" x2="1109.90" y2="350.12" stroke="#e55b00" stroke-width="2.2"/>
<line x1="1106.50" y1="325.98" x2="1113.30" y2="325.98" stroke="#e55b00" stroke-width="2.2"/>
<line x1="1106.50" y1="350.12" x2="1113.30" y2="350.12" stroke="#e55b00" stroke-width="2.2"/>
<rect x="1106.40" y="334.65" width="7" height="7" fill="#e55b00"/>
<line x1="1148.50" y1="313.50" x2="1148.50" y2="340.18" stroke="#e55b00" stroke-width="2.2"/>
<line x1="1145.10" y1="313.50" x2="1151.90" y2="313.50" stroke="#e55b00" stroke-width="2.2"/>
<line x1="1145.10" y1="340.18" x2="1151.90" y2="340.18" stroke="#e55b00" stroke-width="2.2"/>
<rect x="1145.00" y="323.49" width="7" height="7" fill="#e55b00"/>
<line x1="1187.10" y1="320.70" x2="1187.10" y2="350.73" stroke="#e55b00" stroke-width="2.2"/>
<line x1="1183.70" y1="320.70" x2="1190.50" y2="320.70" stroke="#e55b00" stroke-width="2.2"/>
<line x1="1183.70" y1="350.73" x2="1190.50" y2="350.73" stroke="#e55b00" stroke-width="2.2"/>
<rect x="1183.60" y="332.22" width="7" height="7" fill="#e55b00"/>
</svg>
</body></html>
